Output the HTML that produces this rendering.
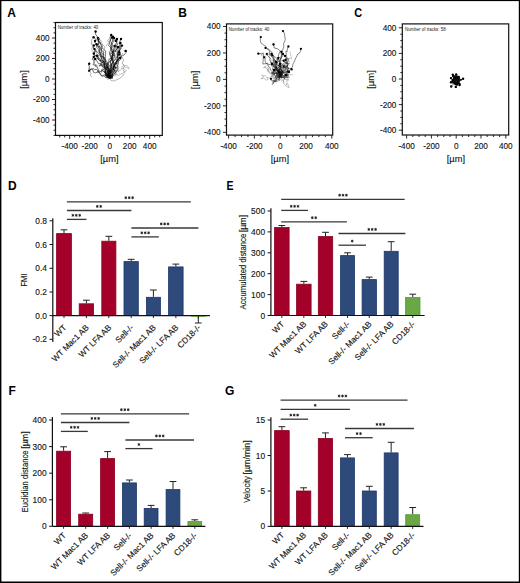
<!DOCTYPE html>
<html><head><meta charset="utf-8"><style>
html,body{margin:0;padding:0;background:#fff;}
#w{position:relative;width:520px;height:583px;overflow:hidden;background:#fff;}
#w svg{position:absolute;left:0;top:0;}
text{font-family:"Liberation Sans",sans-serif;stroke:#111;stroke-width:0.12px;}
</style></head><body><div id="w">
<svg width="520" height="583" viewBox="0 0 520 583" font-family="Liberation Sans, sans-serif">
<rect x="0" y="0" width="520" height="1.1" fill="#000"/><rect x="0" y="0" width="1.4" height="583" fill="#000"/><rect x="518.8" y="0" width="1.2" height="583" fill="#000"/><rect x="0" y="581.5" width="520" height="1.5" fill="#000"/>
<text x="7.30" y="16.80" font-size="12" text-anchor="start" font-weight="bold" fill="#000" style="stroke:none">A</text>
<text x="178.30" y="16.80" font-size="12" text-anchor="start" font-weight="bold" fill="#000" style="stroke:none">B</text>
<text x="354.30" y="16.80" font-size="12" text-anchor="start" font-weight="bold" fill="#000" style="stroke:none" textLength="7.9" lengthAdjust="spacingAndGlyphs">C</text>
<text x="8.00" y="189.50" font-size="12" text-anchor="start" font-weight="bold" fill="#000" style="stroke:none">D</text>
<text x="226.50" y="189.50" font-size="12" text-anchor="start" font-weight="bold" fill="#000" style="stroke:none" textLength="7.0" lengthAdjust="spacingAndGlyphs">E</text>
<text x="8.50" y="394.50" font-size="12" text-anchor="start" font-weight="bold" fill="#000" style="stroke:none">F</text>
<text x="225.00" y="395.00" font-size="12" text-anchor="start" font-weight="bold" fill="#000" style="stroke:none">G</text>
<rect x="55.50" y="22.50" width="106.80" height="112.90" fill="none" stroke="#111" stroke-width="1.2"/>
<line x1="53.50" y1="135.38" x2="55.50" y2="135.38" stroke="#111" stroke-width="0.9"/>
<line x1="53.50" y1="130.25" x2="55.50" y2="130.25" stroke="#111" stroke-width="0.9"/>
<line x1="53.50" y1="125.12" x2="55.50" y2="125.12" stroke="#111" stroke-width="0.9"/>
<line x1="52.00" y1="120.00" x2="55.50" y2="120.00" stroke="#111" stroke-width="0.9"/>
<text x="49.50" y="122.90" font-size="8.2" text-anchor="end" font-weight="normal" fill="#111" >-400</text>
<line x1="53.50" y1="114.88" x2="55.50" y2="114.88" stroke="#111" stroke-width="0.9"/>
<line x1="53.50" y1="109.75" x2="55.50" y2="109.75" stroke="#111" stroke-width="0.9"/>
<line x1="53.50" y1="104.62" x2="55.50" y2="104.62" stroke="#111" stroke-width="0.9"/>
<line x1="52.00" y1="99.50" x2="55.50" y2="99.50" stroke="#111" stroke-width="0.9"/>
<text x="49.50" y="102.40" font-size="8.2" text-anchor="end" font-weight="normal" fill="#111" >-200</text>
<line x1="53.50" y1="94.38" x2="55.50" y2="94.38" stroke="#111" stroke-width="0.9"/>
<line x1="53.50" y1="89.25" x2="55.50" y2="89.25" stroke="#111" stroke-width="0.9"/>
<line x1="53.50" y1="84.12" x2="55.50" y2="84.12" stroke="#111" stroke-width="0.9"/>
<line x1="52.00" y1="79.00" x2="55.50" y2="79.00" stroke="#111" stroke-width="0.9"/>
<text x="49.50" y="81.90" font-size="8.2" text-anchor="end" font-weight="normal" fill="#111" >0</text>
<line x1="53.50" y1="73.88" x2="55.50" y2="73.88" stroke="#111" stroke-width="0.9"/>
<line x1="53.50" y1="68.75" x2="55.50" y2="68.75" stroke="#111" stroke-width="0.9"/>
<line x1="53.50" y1="63.62" x2="55.50" y2="63.62" stroke="#111" stroke-width="0.9"/>
<line x1="52.00" y1="58.50" x2="55.50" y2="58.50" stroke="#111" stroke-width="0.9"/>
<text x="49.50" y="61.40" font-size="8.2" text-anchor="end" font-weight="normal" fill="#111" >200</text>
<line x1="53.50" y1="53.38" x2="55.50" y2="53.38" stroke="#111" stroke-width="0.9"/>
<line x1="53.50" y1="48.25" x2="55.50" y2="48.25" stroke="#111" stroke-width="0.9"/>
<line x1="53.50" y1="43.12" x2="55.50" y2="43.12" stroke="#111" stroke-width="0.9"/>
<line x1="52.00" y1="38.00" x2="55.50" y2="38.00" stroke="#111" stroke-width="0.9"/>
<text x="49.50" y="40.90" font-size="8.2" text-anchor="end" font-weight="normal" fill="#111" >400</text>
<line x1="53.50" y1="32.88" x2="55.50" y2="32.88" stroke="#111" stroke-width="0.9"/>
<line x1="53.50" y1="27.75" x2="55.50" y2="27.75" stroke="#111" stroke-width="0.9"/>
<line x1="53.50" y1="22.62" x2="55.50" y2="22.62" stroke="#111" stroke-width="0.9"/>
<line x1="59.70" y1="135.40" x2="59.70" y2="137.40" stroke="#111" stroke-width="0.9"/>
<line x1="64.70" y1="135.40" x2="64.70" y2="137.40" stroke="#111" stroke-width="0.9"/>
<line x1="69.70" y1="135.40" x2="69.70" y2="138.90" stroke="#111" stroke-width="0.9"/>
<text x="69.70" y="148.90" font-size="8.2" text-anchor="middle" font-weight="normal" fill="#111" >-400</text>
<line x1="74.70" y1="135.40" x2="74.70" y2="137.40" stroke="#111" stroke-width="0.9"/>
<line x1="79.70" y1="135.40" x2="79.70" y2="137.40" stroke="#111" stroke-width="0.9"/>
<line x1="84.70" y1="135.40" x2="84.70" y2="137.40" stroke="#111" stroke-width="0.9"/>
<line x1="89.70" y1="135.40" x2="89.70" y2="138.90" stroke="#111" stroke-width="0.9"/>
<text x="89.70" y="148.90" font-size="8.2" text-anchor="middle" font-weight="normal" fill="#111" >-200</text>
<line x1="94.70" y1="135.40" x2="94.70" y2="137.40" stroke="#111" stroke-width="0.9"/>
<line x1="99.70" y1="135.40" x2="99.70" y2="137.40" stroke="#111" stroke-width="0.9"/>
<line x1="104.70" y1="135.40" x2="104.70" y2="137.40" stroke="#111" stroke-width="0.9"/>
<line x1="109.70" y1="135.40" x2="109.70" y2="138.90" stroke="#111" stroke-width="0.9"/>
<text x="109.70" y="148.90" font-size="8.2" text-anchor="middle" font-weight="normal" fill="#111" >0</text>
<line x1="114.70" y1="135.40" x2="114.70" y2="137.40" stroke="#111" stroke-width="0.9"/>
<line x1="119.70" y1="135.40" x2="119.70" y2="137.40" stroke="#111" stroke-width="0.9"/>
<line x1="124.70" y1="135.40" x2="124.70" y2="137.40" stroke="#111" stroke-width="0.9"/>
<line x1="129.70" y1="135.40" x2="129.70" y2="138.90" stroke="#111" stroke-width="0.9"/>
<text x="129.70" y="148.90" font-size="8.2" text-anchor="middle" font-weight="normal" fill="#111" >200</text>
<line x1="134.70" y1="135.40" x2="134.70" y2="137.40" stroke="#111" stroke-width="0.9"/>
<line x1="139.70" y1="135.40" x2="139.70" y2="137.40" stroke="#111" stroke-width="0.9"/>
<line x1="144.70" y1="135.40" x2="144.70" y2="137.40" stroke="#111" stroke-width="0.9"/>
<line x1="149.70" y1="135.40" x2="149.70" y2="138.90" stroke="#111" stroke-width="0.9"/>
<text x="149.70" y="148.90" font-size="8.2" text-anchor="middle" font-weight="normal" fill="#111" >400</text>
<line x1="154.70" y1="135.40" x2="154.70" y2="137.40" stroke="#111" stroke-width="0.9"/>
<line x1="159.70" y1="135.40" x2="159.70" y2="137.40" stroke="#111" stroke-width="0.9"/>
<text x="109.40" y="161.60" font-size="9.3" text-anchor="middle" font-weight="normal" fill="#111" >[µm]</text>
<text x="0" y="0" font-size="9.5" text-anchor="middle" fill="#111" transform="translate(27.40,79.50) rotate(-90)">[µm]</text>
<text x="57.70" y="29.20" font-size="4.8" text-anchor="start" font-weight="normal" fill="#1a1a1a" style="stroke:none" textLength="40.6" lengthAdjust="spacingAndGlyphs">Number of tracks: 40</text>
<rect x="226.50" y="23.90" width="106.20" height="111.20" fill="none" stroke="#111" stroke-width="1.2"/>
<line x1="223.00" y1="132.32" x2="226.50" y2="132.32" stroke="#111" stroke-width="0.9"/>
<text x="220.50" y="135.22" font-size="8.2" text-anchor="end" font-weight="normal" fill="#111" >-400</text>
<line x1="224.50" y1="125.71" x2="226.50" y2="125.71" stroke="#111" stroke-width="0.9"/>
<line x1="224.50" y1="119.09" x2="226.50" y2="119.09" stroke="#111" stroke-width="0.9"/>
<line x1="224.50" y1="112.48" x2="226.50" y2="112.48" stroke="#111" stroke-width="0.9"/>
<line x1="223.00" y1="105.86" x2="226.50" y2="105.86" stroke="#111" stroke-width="0.9"/>
<text x="220.50" y="108.76" font-size="8.2" text-anchor="end" font-weight="normal" fill="#111" >-200</text>
<line x1="224.50" y1="99.25" x2="226.50" y2="99.25" stroke="#111" stroke-width="0.9"/>
<line x1="224.50" y1="92.63" x2="226.50" y2="92.63" stroke="#111" stroke-width="0.9"/>
<line x1="224.50" y1="86.02" x2="226.50" y2="86.02" stroke="#111" stroke-width="0.9"/>
<line x1="223.00" y1="79.40" x2="226.50" y2="79.40" stroke="#111" stroke-width="0.9"/>
<text x="220.50" y="82.30" font-size="8.2" text-anchor="end" font-weight="normal" fill="#111" >0</text>
<line x1="224.50" y1="72.79" x2="226.50" y2="72.79" stroke="#111" stroke-width="0.9"/>
<line x1="224.50" y1="66.17" x2="226.50" y2="66.17" stroke="#111" stroke-width="0.9"/>
<line x1="224.50" y1="59.56" x2="226.50" y2="59.56" stroke="#111" stroke-width="0.9"/>
<line x1="223.00" y1="52.94" x2="226.50" y2="52.94" stroke="#111" stroke-width="0.9"/>
<text x="220.50" y="55.84" font-size="8.2" text-anchor="end" font-weight="normal" fill="#111" >200</text>
<line x1="224.50" y1="46.33" x2="226.50" y2="46.33" stroke="#111" stroke-width="0.9"/>
<line x1="224.50" y1="39.71" x2="226.50" y2="39.71" stroke="#111" stroke-width="0.9"/>
<line x1="224.50" y1="33.10" x2="226.50" y2="33.10" stroke="#111" stroke-width="0.9"/>
<line x1="223.00" y1="26.48" x2="226.50" y2="26.48" stroke="#111" stroke-width="0.9"/>
<text x="220.50" y="29.38" font-size="8.2" text-anchor="end" font-weight="normal" fill="#111" >400</text>
<line x1="228.60" y1="135.10" x2="228.60" y2="138.60" stroke="#111" stroke-width="0.9"/>
<text x="228.60" y="148.60" font-size="8.2" text-anchor="middle" font-weight="normal" fill="#111" >-400</text>
<line x1="235.05" y1="135.10" x2="235.05" y2="137.10" stroke="#111" stroke-width="0.9"/>
<line x1="241.50" y1="135.10" x2="241.50" y2="137.10" stroke="#111" stroke-width="0.9"/>
<line x1="247.95" y1="135.10" x2="247.95" y2="137.10" stroke="#111" stroke-width="0.9"/>
<line x1="254.40" y1="135.10" x2="254.40" y2="138.60" stroke="#111" stroke-width="0.9"/>
<text x="254.40" y="148.60" font-size="8.2" text-anchor="middle" font-weight="normal" fill="#111" >-200</text>
<line x1="260.85" y1="135.10" x2="260.85" y2="137.10" stroke="#111" stroke-width="0.9"/>
<line x1="267.30" y1="135.10" x2="267.30" y2="137.10" stroke="#111" stroke-width="0.9"/>
<line x1="273.75" y1="135.10" x2="273.75" y2="137.10" stroke="#111" stroke-width="0.9"/>
<line x1="280.20" y1="135.10" x2="280.20" y2="138.60" stroke="#111" stroke-width="0.9"/>
<text x="280.20" y="148.60" font-size="8.2" text-anchor="middle" font-weight="normal" fill="#111" >0</text>
<line x1="286.65" y1="135.10" x2="286.65" y2="137.10" stroke="#111" stroke-width="0.9"/>
<line x1="293.10" y1="135.10" x2="293.10" y2="137.10" stroke="#111" stroke-width="0.9"/>
<line x1="299.55" y1="135.10" x2="299.55" y2="137.10" stroke="#111" stroke-width="0.9"/>
<line x1="306.00" y1="135.10" x2="306.00" y2="138.60" stroke="#111" stroke-width="0.9"/>
<text x="306.00" y="148.60" font-size="8.2" text-anchor="middle" font-weight="normal" fill="#111" >200</text>
<line x1="312.45" y1="135.10" x2="312.45" y2="137.10" stroke="#111" stroke-width="0.9"/>
<line x1="318.90" y1="135.10" x2="318.90" y2="137.10" stroke="#111" stroke-width="0.9"/>
<line x1="325.35" y1="135.10" x2="325.35" y2="137.10" stroke="#111" stroke-width="0.9"/>
<line x1="331.80" y1="135.10" x2="331.80" y2="138.60" stroke="#111" stroke-width="0.9"/>
<text x="331.80" y="148.60" font-size="8.2" text-anchor="middle" font-weight="normal" fill="#111" >400</text>
<text x="279.90" y="161.60" font-size="9.3" text-anchor="middle" font-weight="normal" fill="#111" >[µm]</text>
<text x="0" y="0" font-size="9.5" text-anchor="middle" fill="#111" transform="translate(198.40,79.90) rotate(-90)">[µm]</text>
<text x="228.70" y="30.60" font-size="4.8" text-anchor="start" font-weight="normal" fill="#1a1a1a" style="stroke:none" textLength="40.6" lengthAdjust="spacingAndGlyphs">Number of tracks: 40</text>
<rect x="402.30" y="23.90" width="106.40" height="111.10" fill="none" stroke="#111" stroke-width="1.2"/>
<line x1="398.80" y1="130.20" x2="402.30" y2="130.20" stroke="#111" stroke-width="0.9"/>
<text x="396.30" y="133.10" font-size="8.2" text-anchor="end" font-weight="normal" fill="#111" >-400</text>
<line x1="400.30" y1="123.80" x2="402.30" y2="123.80" stroke="#111" stroke-width="0.9"/>
<line x1="400.30" y1="117.40" x2="402.30" y2="117.40" stroke="#111" stroke-width="0.9"/>
<line x1="400.30" y1="111.00" x2="402.30" y2="111.00" stroke="#111" stroke-width="0.9"/>
<line x1="398.80" y1="104.60" x2="402.30" y2="104.60" stroke="#111" stroke-width="0.9"/>
<text x="396.30" y="107.50" font-size="8.2" text-anchor="end" font-weight="normal" fill="#111" >-200</text>
<line x1="400.30" y1="98.20" x2="402.30" y2="98.20" stroke="#111" stroke-width="0.9"/>
<line x1="400.30" y1="91.80" x2="402.30" y2="91.80" stroke="#111" stroke-width="0.9"/>
<line x1="400.30" y1="85.40" x2="402.30" y2="85.40" stroke="#111" stroke-width="0.9"/>
<line x1="398.80" y1="79.00" x2="402.30" y2="79.00" stroke="#111" stroke-width="0.9"/>
<text x="396.30" y="81.90" font-size="8.2" text-anchor="end" font-weight="normal" fill="#111" >0</text>
<line x1="400.30" y1="72.60" x2="402.30" y2="72.60" stroke="#111" stroke-width="0.9"/>
<line x1="400.30" y1="66.20" x2="402.30" y2="66.20" stroke="#111" stroke-width="0.9"/>
<line x1="400.30" y1="59.80" x2="402.30" y2="59.80" stroke="#111" stroke-width="0.9"/>
<line x1="398.80" y1="53.40" x2="402.30" y2="53.40" stroke="#111" stroke-width="0.9"/>
<text x="396.30" y="56.30" font-size="8.2" text-anchor="end" font-weight="normal" fill="#111" >200</text>
<line x1="400.30" y1="47.00" x2="402.30" y2="47.00" stroke="#111" stroke-width="0.9"/>
<line x1="400.30" y1="40.60" x2="402.30" y2="40.60" stroke="#111" stroke-width="0.9"/>
<line x1="400.30" y1="34.20" x2="402.30" y2="34.20" stroke="#111" stroke-width="0.9"/>
<line x1="398.80" y1="27.80" x2="402.30" y2="27.80" stroke="#111" stroke-width="0.9"/>
<text x="396.30" y="30.70" font-size="8.2" text-anchor="end" font-weight="normal" fill="#111" >400</text>
<line x1="406.60" y1="135.00" x2="406.60" y2="138.50" stroke="#111" stroke-width="0.9"/>
<text x="406.60" y="148.50" font-size="8.2" text-anchor="middle" font-weight="normal" fill="#111" >-400</text>
<line x1="412.80" y1="135.00" x2="412.80" y2="137.00" stroke="#111" stroke-width="0.9"/>
<line x1="419.00" y1="135.00" x2="419.00" y2="137.00" stroke="#111" stroke-width="0.9"/>
<line x1="425.20" y1="135.00" x2="425.20" y2="137.00" stroke="#111" stroke-width="0.9"/>
<line x1="431.40" y1="135.00" x2="431.40" y2="138.50" stroke="#111" stroke-width="0.9"/>
<text x="431.40" y="148.50" font-size="8.2" text-anchor="middle" font-weight="normal" fill="#111" >-200</text>
<line x1="437.60" y1="135.00" x2="437.60" y2="137.00" stroke="#111" stroke-width="0.9"/>
<line x1="443.80" y1="135.00" x2="443.80" y2="137.00" stroke="#111" stroke-width="0.9"/>
<line x1="450.00" y1="135.00" x2="450.00" y2="137.00" stroke="#111" stroke-width="0.9"/>
<line x1="456.20" y1="135.00" x2="456.20" y2="138.50" stroke="#111" stroke-width="0.9"/>
<text x="456.20" y="148.50" font-size="8.2" text-anchor="middle" font-weight="normal" fill="#111" >0</text>
<line x1="462.40" y1="135.00" x2="462.40" y2="137.00" stroke="#111" stroke-width="0.9"/>
<line x1="468.60" y1="135.00" x2="468.60" y2="137.00" stroke="#111" stroke-width="0.9"/>
<line x1="474.80" y1="135.00" x2="474.80" y2="137.00" stroke="#111" stroke-width="0.9"/>
<line x1="481.00" y1="135.00" x2="481.00" y2="138.50" stroke="#111" stroke-width="0.9"/>
<text x="481.00" y="148.50" font-size="8.2" text-anchor="middle" font-weight="normal" fill="#111" >200</text>
<line x1="487.20" y1="135.00" x2="487.20" y2="137.00" stroke="#111" stroke-width="0.9"/>
<line x1="493.40" y1="135.00" x2="493.40" y2="137.00" stroke="#111" stroke-width="0.9"/>
<line x1="499.60" y1="135.00" x2="499.60" y2="137.00" stroke="#111" stroke-width="0.9"/>
<line x1="505.80" y1="135.00" x2="505.80" y2="138.50" stroke="#111" stroke-width="0.9"/>
<text x="505.80" y="148.50" font-size="8.2" text-anchor="middle" font-weight="normal" fill="#111" >400</text>
<text x="455.90" y="161.60" font-size="9.3" text-anchor="middle" font-weight="normal" fill="#111" >[µm]</text>
<text x="0" y="0" font-size="9.5" text-anchor="middle" fill="#111" transform="translate(374.30,79.50) rotate(-90)">[µm]</text>
<text x="405.00" y="31.10" font-size="4.8" text-anchor="start" font-weight="normal" fill="#1a1a1a" style="stroke:none" textLength="40.6" lengthAdjust="spacingAndGlyphs">Number of tracks: 58</text>
<g fill="none" stroke-linejoin="round" stroke-linecap="round">
<path d="M109.6,78.0 L108.3,76.9 L107.0,74.2 L104.5,71.8 L105.7,70.4 L106.7,68.8 L106.6,67.0 L102.8,66.3 L102.9,65.1 L99.1,59.7 L96.7,56.7 L96.5,54.4 L96.6,51.0 L96.4,49.4 L94.5,50.2 L94.8,50.1 L92.9,46.4 L91.6,43.9 L92.0,42.0" stroke="#8a8a8a" stroke-width="0.5"/>
<path d="M109.6,78.0 L109.5,75.7 L109.2,77.3 L108.4,77.2 L109.8,73.9 L110.6,75.7 L107.6,74.5 L108.1,72.4 L109.6,71.7 L107.6,72.6 L109.4,73.6 L112.7,73.6 L113.5,70.6 L115.2,68.9 L115.0,65.9 L113.9,64.3 L116.8,59.9 L114.8,59.7 L118.0,60.0" stroke="#8a8a8a" stroke-width="0.5"/>
<path d="M109.6,78.0 L107.0,72.8 L108.4,70.8 L107.2,71.8 L109.9,71.4 L111.1,71.5 L114.7,71.9 L116.4,72.2 L114.4,73.8 L116.8,74.0 L114.0,72.2 L116.3,68.2 L116.6,69.3 L115.0,71.5 L116.7,70.4 L118.0,70.9 L118.9,72.2 L118.4,70.7 L121.0,70.0" stroke="#8a8a8a" stroke-width="0.5"/>
<path d="M109.6,78.0 L107.5,79.4 L109.7,78.4 L106.7,77.9 L106.0,77.1 L108.0,74.9 L109.8,72.4 L107.9,73.2 L109.5,74.5 L109.6,74.5 L109.4,75.2 L108.6,75.4 L109.1,75.1 L110.0,75.9 L113.1,76.2 L111.8,75.2 L111.3,76.5 L110.2,76.9 L113.0,72.0" stroke="#8a8a8a" stroke-width="0.5"/>
<path d="M109.6,78.0 L108.2,77.6 L109.6,77.3 L109.5,77.6 L110.7,75.9 L115.7,75.7 L115.3,74.7 L115.6,73.7 L111.3,72.0 L113.7,69.0 L114.2,69.8 L116.4,71.6 L113.9,70.1 L113.9,70.3 L116.5,64.6 L119.0,61.0 L120.8,57.4 L121.7,58.6 L122.0,58.0" stroke="#8a8a8a" stroke-width="0.5"/>
<path d="M109.6,78.0 L110.9,76.5 L110.6,77.5 L112.3,75.3 L117.1,71.4 L118.5,69.1 L118.6,68.6 L118.8,67.9 L115.9,63.4 L116.8,59.8 L114.8,55.2 L116.9,54.7 L119.4,51.1 L119.2,47.1 L120.4,48.0 L118.6,48.9 L120.1,46.6 L116.4,47.1 L116.0,44.0" stroke="#8a8a8a" stroke-width="0.5"/>
<path d="M109.6,78.0 L111.4,77.3 L115.2,74.0 L118.3,75.3 L122.0,73.5 L121.7,73.9 L122.9,72.7 L126.5,70.7 L123.4,68.5 L121.1,68.5 L122.7,66.0 L123.7,66.0 L124.9,66.8 L125.7,67.2 L129.4,68.6 L129.2,68.7 L126.8,65.2 L124.2,65.6 L123.0,64.0" stroke="#8a8a8a" stroke-width="0.5"/>
<path d="M109.6,78.0 L109.0,77.3 L107.7,77.1 L110.7,76.5 L111.4,77.6 L110.8,74.6 L109.6,75.9 L106.4,74.1 L108.1,74.8 L107.9,75.5 L108.0,72.7 L105.0,70.8 L106.5,69.0 L104.7,66.9 L101.8,65.9 L99.5,65.8 L95.1,65.6 L93.8,61.3 L95.0,60.0" stroke="#8a8a8a" stroke-width="0.5"/>
<path d="M109.6,78.0 L105.8,74.5 L104.9,71.4 L104.7,69.7 L104.4,67.6 L104.8,65.8 L104.2,60.7 L104.2,59.6 L102.7,56.4 L103.9,51.6 L103.3,51.8 L101.1,49.9 L102.3,47.0 L101.9,45.3 L99.7,42.4 L99.0,40.6 L97.9,37.6 L95.6,34.3 L95.6,31.5" stroke="#000" stroke-width="0.55"/>
<path d="M109.6,78.0 L107.3,74.8 L109.3,74.0 L108.8,68.8 L108.4,67.1 L109.2,65.4 L107.9,63.8 L104.4,62.8 L103.6,59.6 L104.0,59.5 L101.1,56.4 L100.3,54.3 L98.7,50.7 L100.1,49.6 L97.5,45.6 L98.4,44.3 L99.5,42.8 L97.3,40.7 L93.6,37.3" stroke="#000" stroke-width="0.55"/>
<path d="M109.6,78.0 L109.2,76.7 L107.9,74.6 L108.1,73.0 L108.5,71.3 L107.8,70.2 L107.5,67.2 L106.4,65.1 L105.9,63.2 L105.6,61.3 L105.1,57.7 L105.3,56.8 L105.5,54.4 L105.7,51.1 L103.2,48.9 L101.8,47.6 L100.2,42.2 L98.6,41.8 L97.9,37.9" stroke="#000" stroke-width="0.55"/>
<path d="M109.6,78.0 L107.6,75.8 L107.1,73.2 L107.8,71.2 L106.7,69.0 L107.6,67.3 L107.7,63.0 L106.5,61.0 L105.0,59.3 L104.7,57.4 L103.4,57.5 L103.8,54.2 L102.9,54.3 L101.4,52.3 L101.6,49.2 L99.2,46.4 L98.6,44.6 L98.5,41.5 L98.5,39.0" stroke="#000" stroke-width="0.55"/>
<path d="M109.6,78.0 L110.0,76.4 L109.9,75.6 L108.9,73.2 L109.0,69.8 L108.7,65.7 L108.1,64.6 L108.9,62.8 L108.8,59.3 L111.2,58.2 L112.7,55.3 L112.7,51.3 L113.8,50.6 L111.7,48.6 L112.6,44.6 L110.6,41.4 L110.0,37.8 L110.3,36.1 L111.2,35.0" stroke="#000" stroke-width="0.55"/>
<path d="M109.6,78.0 L111.9,77.8 L110.7,75.6 L109.9,72.7 L110.3,71.0 L111.3,67.4 L110.3,65.7 L110.5,63.6 L110.8,61.0 L112.1,59.6 L112.4,57.0 L112.7,52.0 L111.9,50.2 L110.5,48.6 L111.2,45.1 L111.3,42.8 L112.3,41.7 L112.6,38.7 L112.9,36.7" stroke="#000" stroke-width="0.55"/>
<path d="M109.6,78.0 L110.5,76.4 L109.6,72.7 L109.2,69.8 L107.9,67.6 L107.3,65.7 L107.9,63.1 L110.7,60.6 L112.0,58.6 L113.4,53.6 L112.4,51.7 L113.1,52.3 L113.5,51.6 L114.4,50.6 L115.0,48.1 L115.6,44.6 L117.0,41.1 L117.2,41.3 L116.9,39.0" stroke="#000" stroke-width="0.55"/>
<path d="M109.6,78.0 L111.4,75.5 L110.8,73.3 L111.9,71.6 L111.4,71.1 L113.8,68.5 L114.5,65.4 L116.6,61.9 L117.7,58.7 L117.3,56.9 L119.2,54.2 L118.8,52.5 L119.1,50.1 L121.2,48.7 L120.9,48.7 L121.3,46.8 L120.8,44.0 L119.0,43.3 L121.0,39.0" stroke="#000" stroke-width="0.55"/>
<path d="M109.6,78.0 L108.4,74.5 L110.4,72.3 L111.0,70.3 L111.4,67.3 L112.0,63.9 L112.5,62.6 L113.7,60.6 L113.2,59.1 L113.2,59.2 L114.6,57.3 L114.6,54.7 L114.1,52.5 L115.0,51.3 L116.2,52.0 L115.9,50.2 L119.8,46.1 L119.7,44.4 L120.4,43.0" stroke="#000" stroke-width="0.55"/>
<path d="M109.6,78.0 L110.4,76.9 L111.5,76.3 L110.3,73.7 L111.4,70.9 L111.2,70.1 L111.4,69.3 L113.3,68.1 L115.0,66.3 L114.3,64.7 L115.8,62.4 L116.7,61.6 L116.6,60.7 L119.9,58.4 L121.0,56.5 L123.8,55.2 L125.9,52.7 L126.8,50.9 L125.6,50.9" stroke="#000" stroke-width="0.55"/>
<path d="M109.6,78.0 L109.7,74.3 L109.7,72.5 L109.3,71.3 L106.5,69.4 L107.4,67.0 L105.3,63.7 L102.9,62.3 L104.0,61.1 L103.4,62.1 L101.9,59.5 L101.7,58.4 L99.6,55.2 L99.1,53.7 L96.7,51.6 L95.2,50.3 L94.2,48.3 L93.0,47.7 L93.8,45.4" stroke="#000" stroke-width="0.55"/>
<path d="M109.6,78.0 L110.0,75.3 L109.4,74.3 L110.6,72.0 L109.8,70.3 L107.4,68.5 L105.9,67.0 L104.0,62.7 L103.4,61.1 L102.1,60.2 L101.2,57.5 L101.2,53.6 L99.8,51.5 L100.2,49.3 L100.0,46.5 L99.8,46.4 L98.4,47.2 L97.0,45.1 L96.7,44.2" stroke="#000" stroke-width="0.55"/>
<path d="M109.6,78.0 L106.9,74.2 L106.5,73.9 L106.1,75.8 L105.2,74.8 L105.2,74.0 L106.1,71.2 L104.5,65.8 L104.4,64.0 L104.4,65.2 L103.3,63.6 L101.6,61.2 L99.7,60.6 L98.7,59.3 L97.4,59.0 L97.0,57.4 L96.7,55.8 L94.3,56.1 L93.8,53.5" stroke="#000" stroke-width="0.55"/>
<path d="M109.6,78.0 L109.6,77.1 L106.4,77.7 L105.5,77.5 L104.4,76.0 L101.3,75.8 L100.0,74.1 L99.2,72.8 L98.7,71.0 L97.4,67.1 L95.7,66.5 L96.1,64.7 L94.7,65.2 L93.1,64.6 L93.9,63.2 L94.1,60.9 L93.2,59.4 L92.1,59.3 L93.8,57.0" stroke="#000" stroke-width="0.55"/>
<path d="M109.6,78.0 L108.1,77.4 L106.0,76.9 L105.8,75.3 L105.6,72.3 L105.7,69.2 L104.1,67.4 L102.8,67.2 L102.1,65.5 L102.0,66.1 L101.2,65.3 L101.9,64.3 L99.6,66.0 L101.5,62.4 L100.6,61.6 L101.0,61.1 L100.0,58.5 L99.3,58.4 L97.3,55.8" stroke="#000" stroke-width="0.55"/>
<path d="M109.6,78.0 L108.3,75.2 L106.8,74.1 L106.1,72.7 L103.9,71.7 L102.6,70.4 L101.4,70.7 L101.7,72.2 L99.6,71.1 L95.4,72.9 L93.4,72.2 L92.9,70.0 L92.3,69.4 L89.0,69.1 L89.4,66.3 L89.2,65.9 L88.7,65.8 L89.2,64.9 L89.2,63.8" stroke="#000" stroke-width="0.55"/>
<path d="M109.6,78.0 L109.3,76.3 L108.0,77.6 L107.4,76.6 L104.9,74.9 L104.0,75.3 L103.4,75.1 L102.3,76.0 L100.7,74.5 L100.7,73.8 L99.3,72.3 L97.9,72.3 L97.3,70.0 L96.7,69.4 L94.5,69.6 L93.1,68.4 L93.1,69.1 L91.2,68.8 L89.2,70.8" stroke="#000" stroke-width="0.55"/>
<path d="M109.6,78.0 L109.4,77.7 L108.9,77.0 L111.9,72.2 L111.8,71.1 L112.0,68.6 L114.9,66.9 L113.3,66.1 L111.6,65.7 L111.2,64.1 L113.0,62.4 L111.7,58.5 L113.4,57.5 L112.8,56.7 L113.7,55.6 L111.3,53.3 L112.7,52.3 L114.1,47.4 L114.6,46.0" stroke="#000" stroke-width="0.55"/>
<path d="M109.6,78.0 L113.1,75.8 L113.2,74.9 L114.7,73.3 L116.6,71.3 L117.3,69.6 L118.0,67.7 L116.5,67.9 L117.3,66.2 L118.0,66.2 L117.2,65.0 L118.3,64.5 L118.3,60.8 L120.2,60.0 L120.6,58.5 L121.4,56.8 L120.5,54.7 L120.2,52.8 L119.2,52.3" stroke="#000" stroke-width="0.55"/>
<path d="M109.6,78.0 L108.6,77.8 L107.9,77.2 L110.1,76.4 L109.8,75.4 L110.5,72.3 L110.3,71.4 L110.2,70.4 L111.6,70.3 L113.2,69.9 L113.4,68.7 L113.6,67.2 L113.8,64.0 L113.9,62.9 L113.3,61.7 L114.4,60.3 L117.3,56.0 L117.6,52.6 L119.2,54.6" stroke="#000" stroke-width="0.55"/>
<path d="M109.6,78.0 L107.1,76.4 L108.1,74.4 L109.3,69.9 L110.7,68.6 L111.2,66.1 L112.4,63.7 L113.2,61.3 L110.9,59.4 L111.6,58.5 L111.0,56.5 L112.2,54.8 L114.1,55.3 L113.4,51.1 L114.9,51.0 L116.4,50.0 L116.1,47.1 L117.6,44.0 L115.8,40.8" stroke="#000" stroke-width="0.55"/>
<path d="M109.6,78.0 L112.8,78.3 L112.2,75.5 L112.8,72.6 L114.6,70.5 L113.5,70.0 L113.0,68.2 L113.3,65.8 L113.9,62.8 L111.9,58.1 L110.6,55.0 L110.8,52.9 L111.7,50.9 L111.0,47.9 L108.7,45.4 L109.5,43.8 L109.5,41.4 L110.9,39.1 L112.0,37.5" stroke="#000" stroke-width="0.55"/>
<path d="M109.6,78.0 L109.6,77.2 L108.7,74.5 L107.5,71.1 L109.1,70.8 L108.9,69.1 L110.0,67.7 L111.2,63.7 L110.2,61.8 L111.7,59.4 L110.4,56.5 L109.3,52.9 L110.8,49.6 L110.6,49.6 L111.8,47.4 L110.7,45.3 L112.4,43.4 L113.7,40.9 L114.0,38.0" stroke="#000" stroke-width="0.55"/>
<path d="M109.6,78.0 L109.2,77.8 L106.5,76.0 L105.8,73.5 L104.5,72.6 L106.0,71.6 L105.4,67.9 L106.8,66.1 L105.9,62.9 L104.9,59.7 L104.1,58.3 L103.3,56.7 L101.4,56.5 L99.7,52.3 L98.6,49.4 L96.5,47.0 L96.0,43.6 L95.0,43.2 L95.0,41.0" stroke="#000" stroke-width="0.55"/>
<path d="M109.6,78.0 L109.0,76.5 L108.2,75.9 L107.4,71.6 L106.6,69.1 L106.7,66.9 L106.1,68.1 L104.2,65.2 L101.8,60.9 L98.8,59.8 L97.4,56.0 L94.9,55.2 L93.3,53.2 L93.1,53.3 L94.7,52.9 L94.3,51.6 L95.8,51.7 L94.8,50.6 L94.5,49.0" stroke="#000" stroke-width="0.55"/>
<path d="M109.6,78.0 L109.3,75.0 L108.9,71.8 L110.6,71.0 L109.4,71.3 L110.7,67.6 L113.2,67.1 L115.9,64.2 L116.8,63.2 L117.2,61.9 L118.7,58.6 L117.5,55.4 L117.0,53.1 L117.7,51.9 L117.9,49.5 L117.6,49.1 L118.7,47.6 L118.5,47.9 L118.0,47.0" stroke="#000" stroke-width="0.55"/>
<path d="M109.6,78.0 L111.7,75.8 L113.4,72.7 L115.3,71.0 L114.1,69.9 L113.7,69.6 L113.6,67.5 L114.6,65.1 L115.6,62.5 L117.0,60.6 L117.9,55.3 L120.0,53.3 L118.5,51.4 L119.7,50.7 L119.0,50.5 L119.5,51.3 L119.9,50.1 L120.1,46.6 L122.0,45.6" stroke="#000" stroke-width="0.55"/>
<path d="M109.6,78.0 L112.1,77.9 L112.1,74.8 L112.0,72.9 L111.6,72.5 L112.7,71.0 L113.5,69.7 L114.4,69.4 L116.2,67.4 L115.0,68.0 L115.8,68.1 L114.5,66.5 L115.1,63.6 L115.1,63.2 L117.0,63.9 L116.5,61.0 L117.8,60.8 L118.6,58.0 L120.1,57.7" stroke="#000" stroke-width="0.55"/>
<path d="M109.6,78.0 L109.1,76.3 L108.4,76.1 L106.6,72.8 L105.9,72.2 L104.8,72.2 L103.0,70.9 L101.5,70.4 L102.4,68.9 L103.8,69.6 L103.6,69.1 L104.7,67.7 L103.5,65.2 L103.0,65.6 L102.6,64.9 L101.4,63.8 L98.6,63.8 L97.1,61.3 L95.2,59.0" stroke="#000" stroke-width="0.55"/>
</g>
<circle cx="95.6" cy="31.5" r="1.2" fill="#000"/>
<circle cx="93.6" cy="37.3" r="1.2" fill="#000"/>
<circle cx="97.9" cy="37.9" r="1.2" fill="#000"/>
<circle cx="98.5" cy="39.0" r="1.2" fill="#000"/>
<circle cx="111.2" cy="35.0" r="1.2" fill="#000"/>
<circle cx="112.9" cy="36.7" r="1.2" fill="#000"/>
<circle cx="116.9" cy="39.0" r="1.2" fill="#000"/>
<circle cx="121.0" cy="39.0" r="1.2" fill="#000"/>
<circle cx="120.4" cy="43.0" r="1.2" fill="#000"/>
<circle cx="125.6" cy="50.9" r="1.2" fill="#000"/>
<circle cx="93.8" cy="45.4" r="1.2" fill="#000"/>
<circle cx="96.7" cy="44.2" r="1.2" fill="#000"/>
<circle cx="93.8" cy="53.5" r="1.2" fill="#000"/>
<circle cx="93.8" cy="57.0" r="1.2" fill="#000"/>
<circle cx="97.3" cy="55.8" r="1.2" fill="#000"/>
<circle cx="89.2" cy="63.8" r="1.2" fill="#000"/>
<circle cx="89.2" cy="70.8" r="1.2" fill="#000"/>
<circle cx="114.6" cy="46.0" r="1.2" fill="#000"/>
<circle cx="119.2" cy="52.3" r="1.2" fill="#000"/>
<circle cx="119.2" cy="54.6" r="1.2" fill="#000"/>
<circle cx="115.8" cy="40.8" r="1.2" fill="#000"/>
<circle cx="112.0" cy="37.5" r="1.2" fill="#000"/>
<circle cx="114.0" cy="38.0" r="1.2" fill="#000"/>
<circle cx="95.0" cy="41.0" r="1.2" fill="#000"/>
<circle cx="94.5" cy="49.0" r="1.2" fill="#000"/>
<circle cx="118.0" cy="47.0" r="1.2" fill="#000"/>
<circle cx="122.0" cy="45.6" r="1.2" fill="#000"/>
<circle cx="120.1" cy="57.7" r="1.2" fill="#000"/>
<circle cx="95.2" cy="59.0" r="1.2" fill="#000"/>
<g fill="none" stroke="#777" stroke-width="0.55" stroke-linejoin="round">
<path d="M109.6,78 L111,80.5 L114,81 L116.5,79.8 L119.5,78.6 L122.5,76 L124.6,72.5 L123.2,69.5 L124.4,66 L122.2,63.2 L123.6,60 L121.4,56.5 L122.6,53"/>
<path d="M93.6,37.3 L91.8,39.5 L91.2,43 L92.6,46 L91.6,49.5 L93.2,52"/>
<path d="M97.9,37.9 L100.5,40 L102.5,44.5 L104.8,47 L104,50.5 L101.5,53"/>
<path d="M106,46 L108.5,43 L107.8,40.2 L109.6,38.5"/>
<path d="M89.2,70.8 L91,73.5 L90.2,75.5 L92,76.8"/>
</g>
<g fill="none" stroke-linejoin="round" stroke-linecap="round">
<path d="M280.0,76.5 L281.4,78.9 L278.5,81.1 L279.9,80.3 L276.7,79.3 L275.2,80.3 L274.2,76.7 L274.4,74.1 L275.9,72.1 L274.2,70.8 L272.9,73.7 L274.3,75.2 L274.6,72.6 L273.3,71.9 L271.1,73.2 L269.4,72.2 L267.1,68.6 L267.9,71.5 L268.0,70.0" stroke="#8a8a8a" stroke-width="0.5"/>
<path d="M280.0,76.5 L275.5,75.9 L278.7,75.4 L281.2,77.3 L284.2,75.5 L287.1,76.0 L284.8,74.3 L282.8,73.1 L284.7,70.0 L281.5,71.5 L283.0,73.4 L281.2,74.5 L286.1,77.4 L286.4,77.0 L286.9,77.9 L289.7,77.1 L287.8,77.6 L287.7,77.8 L289.0,80.0" stroke="#8a8a8a" stroke-width="0.5"/>
<path d="M280.0,76.5 L281.1,74.6 L280.7,77.0 L278.6,76.8 L279.8,78.2 L279.8,74.6 L276.2,74.1 L275.9,78.0 L273.1,79.2 L273.5,74.9 L270.9,74.2 L268.8,72.8 L268.7,70.2 L268.5,68.0 L266.3,68.0 L264.1,67.5 L266.2,66.5 L264.8,66.9 L263.0,68.0" stroke="#8a8a8a" stroke-width="0.5"/>
<path d="M280.0,76.5 L276.9,78.1 L275.3,77.0 L278.1,75.7 L280.9,77.4 L283.2,75.9 L284.9,79.2 L284.1,79.3 L288.3,80.1 L286.8,79.3 L287.1,80.3 L286.8,84.1 L285.6,85.4 L287.8,83.9 L289.2,87.9 L286.0,86.2 L283.4,83.0 L283.6,79.8 L284.0,83.0" stroke="#8a8a8a" stroke-width="0.5"/>
<path d="M280.0,76.5 L277.9,76.3 L275.3,78.2 L274.9,78.1 L276.1,79.5 L276.5,79.9 L276.5,80.5 L275.2,81.1 L272.5,80.5 L277.4,81.0 L276.0,81.9 L275.1,79.1 L274.8,80.9 L276.6,81.1 L275.9,79.4 L279.6,80.3 L278.8,76.5 L277.2,81.8 L276.0,82.0" stroke="#8a8a8a" stroke-width="0.5"/>
<path d="M280.0,76.5 L281.9,76.1 L282.8,73.4 L282.2,76.7 L282.2,78.3 L280.3,77.7 L282.3,79.6 L281.5,80.8 L283.8,79.3 L286.1,77.5 L286.0,77.4 L282.2,77.1 L281.7,74.2 L282.3,75.7 L283.0,78.1 L282.2,75.5 L286.7,76.2 L290.0,74.5 L293.0,75.0" stroke="#8a8a8a" stroke-width="0.5"/>
<path d="M280.0,76.5 L280.4,76.6 L281.9,75.3 L279.2,72.4 L280.6,71.0 L277.7,69.2 L275.9,66.7 L274.5,65.5 L272.6,63.6 L271.8,62.8 L271.1,63.3 L271.0,59.0 L269.0,57.5 L269.7,54.4 L267.4,53.8 L265.9,55.8 L264.2,57.7 L260.5,54.1 L262.0,55.0" stroke="#8a8a8a" stroke-width="0.5"/>
<path d="M280.0,76.5 L280.7,75.7 L281.4,72.3 L283.0,70.3 L284.6,69.5 L280.5,65.9 L282.5,64.7 L281.4,64.1 L280.3,62.1 L280.3,61.3 L283.0,60.4 L286.4,62.9 L289.5,64.0 L289.5,63.2 L288.9,60.8 L288.6,58.5 L291.5,58.6 L290.4,53.8 L290.0,52.0" stroke="#8a8a8a" stroke-width="0.5"/>
<path d="M280.0,76.5 L277.4,73.2 L272.5,73.3 L271.9,77.3 L271.3,76.0 L273.6,75.2 L273.4,73.4 L271.7,75.3 L273.2,77.6 L272.0,76.6 L269.8,77.5 L266.6,77.5 L268.2,79.2 L265.9,80.3 L264.0,77.8 L260.9,79.0 L263.6,76.8 L261.6,75.1 L266.0,76.0" stroke="#8a8a8a" stroke-width="0.5"/>
<path d="M280.0,76.5 L279.7,72.2 L279.3,71.8 L282.2,69.6 L281.7,67.0 L279.7,66.2 L278.8,65.7 L277.0,62.1 L277.8,59.2 L279.3,57.2 L278.2,56.1 L279.7,51.7 L282.5,50.4 L284.0,46.1 L283.5,43.7 L285.3,39.9 L284.6,35.3 L284.7,33.8 L283.0,31.1" stroke="#111" stroke-width="0.5"/>
<path d="M280.0,76.5 L279.6,76.0 L279.4,73.1 L276.7,69.4 L274.8,67.1 L273.6,66.7 L272.9,62.8 L273.8,61.6 L272.9,58.1 L269.4,54.3 L269.5,50.7 L266.7,48.5 L265.9,46.7 L265.7,46.1 L263.5,44.8 L261.1,43.2 L260.3,41.0 L260.4,38.5 L260.8,37.1" stroke="#111" stroke-width="0.5"/>
<path d="M280.0,76.5 L279.6,74.2 L278.1,71.9 L277.3,70.2 L280.6,69.5 L281.1,66.7 L279.6,64.7 L279.3,61.8 L280.9,59.4 L281.7,54.8 L281.2,53.5 L280.9,52.7 L280.7,51.3 L277.7,48.8 L274.1,48.0 L274.0,46.1 L272.4,43.8 L274.2,44.4 L273.6,44.5" stroke="#111" stroke-width="0.5"/>
<path d="M280.0,76.5 L277.1,73.1 L275.7,71.1 L274.2,70.4 L277.3,68.6 L276.6,68.1 L275.8,68.4 L277.3,65.9 L276.7,64.7 L276.3,61.8 L273.3,57.9 L273.2,57.2 L272.5,53.3 L271.2,51.4 L268.5,49.3 L268.6,49.1 L267.8,48.9 L266.2,48.1 L265.5,47.9" stroke="#111" stroke-width="0.5"/>
<path d="M280.0,76.5 L279.7,74.4 L279.4,71.7 L282.1,70.5 L282.5,71.6 L284.1,67.7 L284.9,66.9 L287.2,66.8 L288.0,63.4 L286.7,61.8 L287.2,58.6 L286.5,56.2 L286.4,54.8 L285.8,51.3 L287.3,51.5 L287.0,51.0 L287.4,49.9 L287.8,47.1 L288.4,46.5" stroke="#111" stroke-width="0.5"/>
<path d="M280.0,76.5 L279.7,77.2 L283.2,77.6 L286.6,76.7 L287.0,74.0 L286.7,72.3 L287.5,71.3 L285.7,72.4 L289.5,70.4 L291.2,69.2 L292.3,67.0 L293.0,64.0 L294.1,62.1 L295.3,59.1 L296.2,57.3 L297.8,54.0 L299.1,53.4 L300.7,51.0 L300.9,48.8" stroke="#111" stroke-width="0.5"/>
<path d="M280.0,76.5 L279.6,77.4 L278.1,75.5 L277.3,74.7 L274.8,72.7 L273.4,72.5 L270.5,70.1 L269.9,67.5 L268.7,66.8 L267.3,64.5 L265.9,62.9 L265.0,60.8 L265.2,57.5 L263.6,56.5 L263.6,54.6 L263.0,52.8 L262.6,54.0 L260.8,53.5 L258.3,53.7" stroke="#111" stroke-width="0.5"/>
<path d="M280.0,76.5 L280.6,75.1 L278.2,74.1 L278.8,74.0 L278.9,70.1 L277.0,70.5 L274.5,70.5 L276.0,70.0 L276.5,68.1 L274.0,66.4 L272.8,64.9 L272.7,63.2 L272.0,62.3 L271.1,63.2 L270.7,61.8 L269.5,59.5 L270.3,58.2 L267.9,56.0 L266.8,53.9" stroke="#111" stroke-width="0.5"/>
<path d="M280.0,76.5 L280.7,74.2 L280.5,73.6 L278.2,72.9 L277.4,72.8 L276.0,72.5 L273.1,70.3 L273.4,70.9 L272.6,69.3 L273.2,65.8 L271.4,65.9 L271.5,63.8 L268.3,65.0 L267.7,63.0 L267.1,63.4 L262.9,64.1 L263.1,60.6 L263.4,57.5 L264.1,57.3" stroke="#111" stroke-width="0.5"/>
<path d="M280.0,76.5 L282.4,74.7 L281.8,75.0 L280.4,73.1 L279.4,72.0 L277.4,71.6 L277.5,70.7 L279.2,69.2 L280.3,67.5 L280.7,64.0 L280.4,62.7 L279.2,60.9 L278.2,59.0 L274.8,57.2 L273.5,55.5 L271.5,54.3 L272.0,53.0 L270.8,53.7 L271.5,53.9" stroke="#111" stroke-width="0.5"/>
<path d="M280.0,76.5 L281.2,74.6 L280.7,74.5 L279.6,72.8 L279.8,71.8 L279.1,71.6 L278.5,71.0 L279.6,70.4 L280.2,67.4 L278.2,65.0 L278.5,65.5 L276.6,64.4 L275.1,61.9 L274.4,61.3 L274.4,61.3 L272.8,61.0 L273.7,59.6 L273.9,57.3 L272.2,55.3" stroke="#111" stroke-width="0.5"/>
<path d="M280.0,76.5 L279.2,79.0 L278.6,79.9 L278.9,79.0 L279.8,76.7 L281.0,75.9 L279.1,75.4 L279.8,74.8 L281.9,72.9 L282.6,72.6 L281.4,72.9 L279.6,70.0 L280.3,67.3 L280.1,63.9 L280.2,61.1 L280.7,57.9 L281.3,56.2 L281.4,54.9 L281.6,51.9" stroke="#111" stroke-width="0.5"/>
<path d="M280.0,76.5 L277.2,75.5 L276.6,74.0 L277.7,70.4 L277.3,68.6 L276.5,68.0 L276.9,66.0 L276.2,66.0 L276.0,65.8 L277.1,62.3 L276.3,61.3 L277.3,61.3 L278.9,61.7 L279.0,60.4 L280.6,58.9 L282.6,55.8 L284.0,54.6 L282.0,54.9 L283.0,53.9" stroke="#111" stroke-width="0.5"/>
<path d="M280.0,76.5 L279.1,74.9 L281.7,72.8 L277.7,70.7 L276.7,69.6 L276.7,67.4 L276.1,67.8 L274.8,69.3 L274.7,66.9 L276.2,66.7 L275.4,66.6 L273.6,64.5 L275.6,63.1 L274.4,62.8 L276.2,61.8 L274.3,60.3 L275.4,60.4 L278.4,59.0 L278.3,58.0" stroke="#111" stroke-width="0.5"/>
<path d="M280.0,76.5 L282.3,74.5 L284.6,70.1 L286.3,68.4 L287.6,68.4 L286.8,67.5 L287.8,67.5 L287.2,65.4 L285.4,67.8 L285.9,66.7 L284.6,67.1 L284.6,68.2 L286.4,67.4 L288.0,65.1 L288.3,63.6 L287.3,62.8 L287.8,63.8 L284.1,62.1 L283.6,60.7" stroke="#111" stroke-width="0.5"/>
<path d="M280.0,76.5 L281.0,76.1 L281.6,74.5 L282.7,74.1 L280.8,72.8 L279.5,70.3 L280.2,69.4 L280.8,67.4 L281.0,65.2 L282.0,65.2 L284.8,65.9 L284.2,64.4 L283.5,63.8 L286.6,63.8 L284.2,61.2 L283.0,61.0 L283.5,60.4 L286.3,58.4 L285.7,60.0" stroke="#111" stroke-width="0.5"/>
<path d="M280.0,76.5 L281.4,75.0 L279.7,72.5 L277.5,72.1 L278.5,72.9 L279.3,71.5 L279.3,73.4 L277.9,73.1 L278.9,73.4 L279.3,73.6 L281.4,72.9 L281.7,72.1 L281.4,71.4 L282.0,71.1 L284.7,72.3 L285.0,72.6 L286.4,73.1 L287.4,72.9 L287.7,71.4" stroke="#111" stroke-width="0.5"/>
<path d="M280.0,76.5 L282.0,77.4 L283.8,77.1 L285.0,75.8 L283.6,75.8 L284.8,74.3 L284.4,75.2 L283.0,76.6 L284.7,78.9 L284.7,78.1 L284.9,77.5 L285.5,75.7 L287.8,73.9 L288.1,73.8 L288.3,72.4 L289.6,71.2 L288.9,70.2 L289.5,71.6 L289.0,72.1" stroke="#111" stroke-width="0.5"/>
<path d="M280.0,76.5 L278.2,75.8 L277.1,75.9 L277.4,78.0 L275.8,79.5 L276.4,80.3 L274.7,81.2 L273.8,81.5 L272.7,82.1 L273.4,83.4 L272.3,84.4 L273.5,83.0 L274.6,81.0 L274.6,81.6 L275.8,81.7 L274.4,80.4 L272.0,81.2 L271.0,80.0 L270.9,78.8" stroke="#111" stroke-width="0.5"/>
<path d="M280.0,76.5 L279.3,75.3 L281.2,76.6 L280.9,74.0 L281.0,73.5 L281.3,73.6 L280.7,74.2 L281.6,73.9 L280.9,72.7 L281.7,70.6 L281.3,69.1 L279.3,69.3 L279.1,68.7 L280.1,66.2 L279.8,65.9 L280.7,63.9 L281.5,63.6 L283.1,64.5 L283.6,66.7" stroke="#111" stroke-width="0.5"/>
<path d="M280.0,76.5 L280.5,76.0 L280.5,74.8 L281.0,72.5 L281.4,73.1 L283.1,72.7 L285.4,71.9 L285.7,69.5 L285.2,68.5 L287.6,69.2 L286.7,70.0 L287.8,69.7 L288.3,69.4 L288.1,67.2 L288.5,68.9 L290.8,68.6 L290.3,68.4 L292.0,68.9 L291.7,69.4" stroke="#111" stroke-width="0.5"/>
<path d="M280.0,76.5 L279.7,75.9 L279.2,72.8 L279.2,72.5 L277.8,71.1 L278.8,69.4 L278.0,70.7 L279.0,70.8 L277.8,71.6 L275.7,69.7 L276.6,70.1 L275.3,68.0 L275.6,64.3 L276.3,63.8 L275.7,63.2 L276.7,62.3 L277.3,63.0 L276.7,61.9 L276.0,62.0" stroke="#111" stroke-width="0.5"/>
<path d="M280.0,76.5 L278.8,76.5 L278.3,76.0 L279.9,75.3 L281.0,75.7 L282.0,74.9 L282.5,75.3 L281.1,75.0 L280.2,74.4 L281.2,72.9 L278.5,70.1 L277.2,68.7 L276.6,68.8 L278.1,68.6 L278.1,67.0 L278.1,68.1 L279.2,65.1 L279.6,66.5 L280.0,64.0" stroke="#111" stroke-width="0.5"/>
<path d="M280.0,76.5 L279.5,77.0 L280.0,75.8 L278.8,76.9 L277.0,78.5 L277.0,78.7 L275.2,77.7 L276.0,75.7 L278.5,73.8 L276.9,73.6 L277.4,74.3 L276.9,73.9 L276.5,73.0 L273.2,74.0 L273.4,74.0 L272.6,74.1 L272.5,73.9 L273.8,71.5 L274.0,70.0" stroke="#111" stroke-width="0.5"/>
<path d="M280.0,76.5 L279.2,77.7 L277.4,76.9 L276.2,77.3 L274.5,74.5 L274.7,73.4 L273.9,74.1 L272.3,72.9 L272.1,72.7 L271.0,73.3 L273.3,72.1 L275.2,68.8 L276.5,67.6 L276.2,66.5 L275.0,64.2 L274.1,65.2 L275.0,64.0 L273.9,62.4 L272.0,64.0" stroke="#111" stroke-width="0.5"/>
<path d="M280.0,76.5 L281.4,75.2 L281.3,72.4 L283.4,71.9 L282.8,71.7 L281.9,71.0 L281.3,69.0 L282.4,68.1 L284.2,65.6 L286.7,65.8 L287.2,64.9 L286.8,63.2 L285.6,61.8 L286.4,62.0 L288.1,61.6 L288.2,59.8 L288.3,58.6 L286.4,58.1 L285.0,56.0" stroke="#111" stroke-width="0.5"/>
<path d="M280.0,76.5 L279.3,75.6 L280.7,75.3 L282.0,76.5 L280.7,76.8 L281.6,76.2 L281.0,75.2 L280.4,74.6 L279.8,75.6 L280.8,75.5 L280.4,76.4 L279.3,74.8 L280.0,73.5 L280.5,72.0 L282.1,70.5 L282.4,72.1 L280.5,73.8 L278.8,71.3 L279.0,72.0" stroke="#111" stroke-width="0.5"/>
<path d="M280.0,76.5 L280.1,73.3 L280.4,72.9 L280.3,72.5 L278.5,71.8 L281.1,73.7 L281.0,72.7 L281.9,74.0 L283.2,72.5 L283.8,72.7 L285.9,74.1 L287.0,75.6 L286.8,77.5 L286.7,78.0 L288.2,76.8 L287.7,74.6 L288.3,74.5 L288.3,75.1 L286.0,75.0" stroke="#111" stroke-width="0.5"/>
</g>
<circle cx="283.0" cy="31.1" r="1.15" fill="#000"/>
<circle cx="260.8" cy="37.1" r="1.15" fill="#000"/>
<circle cx="273.6" cy="44.5" r="1.15" fill="#000"/>
<circle cx="265.5" cy="47.9" r="1.15" fill="#000"/>
<circle cx="288.4" cy="46.5" r="1.15" fill="#000"/>
<circle cx="300.9" cy="48.8" r="1.15" fill="#000"/>
<circle cx="258.3" cy="53.7" r="1.15" fill="#000"/>
<circle cx="266.8" cy="53.9" r="1.15" fill="#000"/>
<circle cx="264.1" cy="57.3" r="1.15" fill="#000"/>
<circle cx="271.5" cy="53.9" r="1.15" fill="#000"/>
<circle cx="272.2" cy="55.3" r="1.15" fill="#000"/>
<circle cx="281.6" cy="51.9" r="1.15" fill="#000"/>
<circle cx="283.0" cy="53.9" r="1.15" fill="#000"/>
<circle cx="278.3" cy="58.0" r="1.15" fill="#000"/>
<circle cx="283.6" cy="60.7" r="1.15" fill="#000"/>
<circle cx="285.7" cy="60.0" r="1.15" fill="#000"/>
<circle cx="287.7" cy="71.4" r="1.15" fill="#000"/>
<circle cx="289.0" cy="72.1" r="1.15" fill="#000"/>
<circle cx="270.9" cy="78.8" r="1.15" fill="#000"/>
<circle cx="283.6" cy="66.7" r="1.15" fill="#000"/>
<circle cx="291.7" cy="69.4" r="1.15" fill="#000"/>
<circle cx="276.0" cy="62.0" r="1.15" fill="#000"/>
<circle cx="280.0" cy="64.0" r="1.15" fill="#000"/>
<circle cx="274.0" cy="70.0" r="1.15" fill="#000"/>
<circle cx="272.0" cy="64.0" r="1.15" fill="#000"/>
<circle cx="285.0" cy="56.0" r="1.15" fill="#000"/>
<circle cx="279.0" cy="72.0" r="1.15" fill="#000"/>
<circle cx="286.0" cy="75.0" r="1.15" fill="#000"/>
<g fill="none" stroke-linejoin="round" stroke-linecap="round">
<path d="M456.0,80.5 L455.4,79.5 L455.1,79.5 L454.3,78.2 L453.3,77.4 L453.0,76.1 L452.8,74.8" stroke="#111" stroke-width="0.5"/>
<path d="M456.0,80.5 L456.5,79.4 L456.8,79.0 L456.7,77.6 L457.0,76.7 L456.5,75.4 L456.2,74.4" stroke="#111" stroke-width="0.5"/>
<path d="M456.0,80.5 L457.3,79.8 L457.8,79.1 L457.0,78.8 L457.9,78.1 L458.3,77.0 L458.8,76.9" stroke="#111" stroke-width="0.5"/>
<path d="M456.0,80.5 L455.4,80.9 L453.7,80.5 L453.3,80.2 L451.9,79.7 L452.0,78.9 L451.0,78.1" stroke="#111" stroke-width="0.5"/>
<path d="M456.0,80.5 L456.9,80.7 L458.4,79.6 L460.2,79.2 L461.1,79.9 L462.2,79.2 L463.1,78.8" stroke="#111" stroke-width="0.5"/>
<path d="M456.0,80.5 L454.9,80.3 L454.7,80.4 L453.4,81.8 L452.4,81.8 L451.8,82.1 L451.0,82.3" stroke="#111" stroke-width="0.5"/>
<path d="M456.0,80.5 L457.6,81.3 L457.7,82.2 L457.9,82.8 L458.6,83.7 L459.1,84.9 L459.6,85.0" stroke="#111" stroke-width="0.5"/>
<path d="M456.0,80.5 L455.9,81.3 L455.9,82.0 L455.6,83.1 L453.8,83.4 L452.7,85.1 L451.2,86.5" stroke="#111" stroke-width="0.5"/>
<path d="M456.0,80.5 L456.4,81.8 L456.6,82.5 L456.4,83.7 L456.5,85.0 L456.2,85.7 L455.8,86.9" stroke="#111" stroke-width="0.5"/>
</g>
<circle cx="452.8" cy="74.8" r="1.2" fill="#000"/>
<circle cx="456.2" cy="74.4" r="1.2" fill="#000"/>
<circle cx="458.8" cy="76.9" r="1.2" fill="#000"/>
<circle cx="451.0" cy="78.1" r="1.2" fill="#000"/>
<circle cx="463.1" cy="78.8" r="1.2" fill="#000"/>
<circle cx="451.0" cy="82.3" r="1.2" fill="#000"/>
<circle cx="459.6" cy="85.0" r="1.2" fill="#000"/>
<circle cx="451.2" cy="86.5" r="1.2" fill="#000"/>
<circle cx="455.8" cy="86.9" r="1.2" fill="#000"/>
<ellipse cx="456.2" cy="80.5" rx="3.6" ry="5.0" fill="#000"/>
<g fill="none" stroke="#111" stroke-width="0.7" stroke-linejoin="round">
<path d="M456.0,80.5 L455.0,80.4 L454.2,80.5 L454.2,80.8 L453.6,81.3 L453.0,81.5 L452.5,82.0"/>
<path d="M456.0,80.5 L456.8,80.5 L456.9,79.6 L457.4,79.5 L458.4,78.8 L458.7,78.7 L458.9,78.4"/>
<path d="M456.0,80.5 L455.3,79.8 L453.9,79.2 L453.5,79.8 L453.3,80.1 L453.0,80.1 L452.3,80.2"/>
<path d="M456.0,80.5 L456.8,80.6 L456.1,82.1 L456.0,83.0 L456.3,82.7 L457.5,84.1 L457.4,84.8"/>
<path d="M456.0,80.5 L455.4,79.0 L454.7,78.3 L454.7,77.8 L454.1,77.6 L452.9,77.2 L452.9,76.0"/>
<path d="M456.0,80.5 L455.2,80.4 L455.7,81.1 L456.9,80.9 L457.2,81.8 L457.4,80.8 L458.2,82.6"/>
<path d="M456.0,80.5 L457.0,80.2 L457.1,80.6 L459.0,81.3 L459.5,82.5 L459.8,83.9 L459.8,83.8"/>
<path d="M456.0,80.5 L456.3,81.0 L456.6,80.7 L455.3,79.9 L454.8,79.2 L455.1,78.6 L455.4,78.2"/>
<path d="M456.0,80.5 L456.7,80.3 L457.9,80.6 L458.5,80.3 L458.6,81.0 L460.4,80.7 L461.0,79.7"/>
<path d="M456.0,80.5 L455.8,79.7 L456.7,79.0 L455.9,76.6 L456.4,75.8 L455.1,75.0 L453.8,76.2"/>
<path d="M456.0,80.5 L456.6,81.7 L456.4,81.2 L456.3,81.1 L456.6,80.7 L456.0,82.3 L456.9,82.4"/>
<path d="M456.0,80.5 L454.7,81.0 L454.8,80.5 L454.1,80.1 L453.0,79.7 L453.4,80.1 L454.2,80.1"/>
<path d="M456.0,80.5 L456.1,80.5 L456.1,80.3 L455.2,81.2 L456.2,82.3 L457.2,83.0 L456.9,83.7"/>
<path d="M456.0,80.5 L456.4,80.1 L456.1,79.5 L456.7,79.8 L457.1,81.0 L457.8,81.6 L459.2,81.3"/>
<path d="M456.0,80.5 L454.3,81.4 L453.3,82.5 L452.9,83.5 L452.8,82.7 L452.7,82.7 L451.7,82.8"/>
<path d="M456.0,80.5 L455.8,81.1 L455.7,80.1 L454.6,78.7 L453.8,79.1 L452.7,79.2 L452.1,79.9"/>
<path d="M456.0,80.5 L454.9,80.1 L453.8,81.2 L453.8,81.1 L453.3,81.3 L452.8,81.2 L452.0,80.5"/>
<path d="M456.0,80.5 L455.2,81.6 L455.2,81.7 L454.7,81.9 L454.6,81.6 L454.3,81.8 L453.5,81.4"/>
<path d="M456.0,80.5 L456.3,80.3 L457.7,79.3 L458.4,79.4 L458.9,79.9 L460.4,80.3 L461.2,80.4"/>
<path d="M456.0,80.5 L456.4,80.4 L456.7,79.0 L456.5,77.6 L456.1,77.6 L456.8,76.8 L458.2,75.7"/>
<path d="M456.0,80.5 L456.3,81.7 L455.2,81.5 L454.4,82.7 L455.0,82.7 L455.5,83.2 L455.0,83.6"/>
<path d="M456.0,80.5 L455.8,79.8 L455.2,79.4 L455.5,81.1 L457.1,81.3 L456.1,81.4 L455.6,83.0"/>
</g>
<circle cx="452.5" cy="82.0" r="0.9" fill="#000"/>
<circle cx="458.9" cy="78.4" r="0.9" fill="#000"/>
<circle cx="452.3" cy="80.2" r="0.9" fill="#000"/>
<circle cx="457.4" cy="84.8" r="0.9" fill="#000"/>
<circle cx="452.9" cy="76.0" r="0.9" fill="#000"/>
<circle cx="458.2" cy="82.6" r="0.9" fill="#000"/>
<circle cx="459.8" cy="83.8" r="0.9" fill="#000"/>
<circle cx="455.4" cy="78.2" r="0.9" fill="#000"/>
<circle cx="461.0" cy="79.7" r="0.9" fill="#000"/>
<circle cx="453.8" cy="76.2" r="0.9" fill="#000"/>
<line x1="64.00" y1="233.20" x2="64.00" y2="229.80" stroke="#222" stroke-width="1"/>
<line x1="60.60" y1="229.80" x2="67.40" y2="229.80" stroke="#222" stroke-width="1"/>
<rect x="56.60" y="233.60" width="14.80" height="82.00" fill="#a3002a" stroke="#8a001e" stroke-width="0.8"/>
<line x1="86.40" y1="303.40" x2="86.40" y2="300.20" stroke="#222" stroke-width="1"/>
<line x1="83.00" y1="300.20" x2="89.80" y2="300.20" stroke="#222" stroke-width="1"/>
<rect x="79.20" y="303.80" width="14.40" height="11.80" fill="#a3002a" stroke="#8a001e" stroke-width="0.8"/>
<line x1="108.85" y1="240.80" x2="108.85" y2="236.30" stroke="#222" stroke-width="1"/>
<line x1="105.45" y1="236.30" x2="112.25" y2="236.30" stroke="#222" stroke-width="1"/>
<rect x="101.80" y="241.20" width="14.10" height="74.40" fill="#a3002a" stroke="#8a001e" stroke-width="0.8"/>
<line x1="131.15" y1="261.20" x2="131.15" y2="259.30" stroke="#222" stroke-width="1"/>
<line x1="127.75" y1="259.30" x2="134.55" y2="259.30" stroke="#222" stroke-width="1"/>
<rect x="124.00" y="261.60" width="14.30" height="54.00" fill="#2e4a7b" stroke="#1b356a" stroke-width="0.8"/>
<line x1="153.40" y1="296.90" x2="153.40" y2="290.00" stroke="#222" stroke-width="1"/>
<line x1="150.00" y1="290.00" x2="156.80" y2="290.00" stroke="#222" stroke-width="1"/>
<rect x="146.40" y="297.30" width="14.00" height="18.30" fill="#2e4a7b" stroke="#1b356a" stroke-width="0.8"/>
<line x1="175.85" y1="266.50" x2="175.85" y2="264.10" stroke="#222" stroke-width="1"/>
<line x1="172.45" y1="264.10" x2="179.25" y2="264.10" stroke="#222" stroke-width="1"/>
<rect x="168.60" y="266.90" width="14.50" height="48.70" fill="#2e4a7b" stroke="#1b356a" stroke-width="0.8"/>
<line x1="198.30" y1="315.60" x2="198.30" y2="323.00" stroke="#222" stroke-width="1"/>
<line x1="194.90" y1="323.00" x2="201.70" y2="323.00" stroke="#222" stroke-width="1"/>
<line x1="52.80" y1="218.30" x2="52.80" y2="342.00" stroke="#111" stroke-width="1.2"/>
<line x1="52.80" y1="315.60" x2="209.90" y2="315.60" stroke="#111" stroke-width="1.2"/>
<line x1="190.90" y1="316.50" x2="205.70" y2="316.50" stroke="#69a845" stroke-width="1.0"/>
<line x1="49.50" y1="220.80" x2="52.80" y2="220.80" stroke="#111" stroke-width="1"/>
<text x="47.00" y="223.80" font-size="8.4" text-anchor="end" font-weight="normal" fill="#111" >0.8</text>
<line x1="49.50" y1="244.50" x2="52.80" y2="244.50" stroke="#111" stroke-width="1"/>
<text x="47.00" y="247.50" font-size="8.4" text-anchor="end" font-weight="normal" fill="#111" >0.6</text>
<line x1="49.50" y1="268.30" x2="52.80" y2="268.30" stroke="#111" stroke-width="1"/>
<text x="47.00" y="271.30" font-size="8.4" text-anchor="end" font-weight="normal" fill="#111" >0.4</text>
<line x1="49.50" y1="292.00" x2="52.80" y2="292.00" stroke="#111" stroke-width="1"/>
<text x="47.00" y="295.00" font-size="8.4" text-anchor="end" font-weight="normal" fill="#111" >0.2</text>
<line x1="49.50" y1="315.60" x2="52.80" y2="315.60" stroke="#111" stroke-width="1"/>
<text x="47.00" y="318.60" font-size="8.4" text-anchor="end" font-weight="normal" fill="#111" >0.0</text>
<line x1="49.50" y1="339.30" x2="52.80" y2="339.30" stroke="#111" stroke-width="1"/>
<text x="47.00" y="342.30" font-size="8.4" text-anchor="end" font-weight="normal" fill="#111" >-0.2</text>
<line x1="64.00" y1="315.60" x2="64.00" y2="318.10" stroke="#111" stroke-width="0.9"/>
<line x1="86.40" y1="315.60" x2="86.40" y2="318.10" stroke="#111" stroke-width="0.9"/>
<line x1="108.85" y1="315.60" x2="108.85" y2="318.10" stroke="#111" stroke-width="0.9"/>
<line x1="131.15" y1="315.60" x2="131.15" y2="318.10" stroke="#111" stroke-width="0.9"/>
<line x1="153.40" y1="315.60" x2="153.40" y2="318.10" stroke="#111" stroke-width="0.9"/>
<line x1="175.85" y1="315.60" x2="175.85" y2="318.10" stroke="#111" stroke-width="0.9"/>
<line x1="198.30" y1="315.60" x2="198.30" y2="318.10" stroke="#111" stroke-width="0.9"/>
<line x1="66.90" y1="201.80" x2="190.80" y2="201.80" stroke="#383838" stroke-width="1.3"/>
<circle cx="125.80" cy="197.70" r="0.85" fill="#222"/>
<line x1="125.80" y1="196.25" x2="125.80" y2="199.15" stroke="#222" stroke-width="0.75"/>
<line x1="124.54" y1="196.98" x2="127.06" y2="198.43" stroke="#222" stroke-width="0.75"/>
<line x1="127.06" y1="196.98" x2="124.54" y2="198.43" stroke="#222" stroke-width="0.75"/>
<circle cx="129.20" cy="197.70" r="0.85" fill="#222"/>
<line x1="129.20" y1="196.25" x2="129.20" y2="199.15" stroke="#222" stroke-width="0.75"/>
<line x1="127.94" y1="196.98" x2="130.46" y2="198.43" stroke="#222" stroke-width="0.75"/>
<line x1="130.46" y1="196.98" x2="127.94" y2="198.43" stroke="#222" stroke-width="0.75"/>
<circle cx="132.60" cy="197.70" r="0.85" fill="#222"/>
<line x1="132.60" y1="196.25" x2="132.60" y2="199.15" stroke="#222" stroke-width="0.75"/>
<line x1="131.34" y1="196.98" x2="133.86" y2="198.43" stroke="#222" stroke-width="0.75"/>
<line x1="133.86" y1="196.98" x2="131.34" y2="198.43" stroke="#222" stroke-width="0.75"/>
<line x1="66.90" y1="210.50" x2="131.40" y2="210.50" stroke="#383838" stroke-width="1.3"/>
<circle cx="97.30" cy="206.40" r="0.85" fill="#222"/>
<line x1="97.30" y1="204.95" x2="97.30" y2="207.85" stroke="#222" stroke-width="0.75"/>
<line x1="96.04" y1="205.68" x2="98.56" y2="207.12" stroke="#222" stroke-width="0.75"/>
<line x1="98.56" y1="205.68" x2="96.04" y2="207.12" stroke="#222" stroke-width="0.75"/>
<circle cx="100.70" cy="206.40" r="0.85" fill="#222"/>
<line x1="100.70" y1="204.95" x2="100.70" y2="207.85" stroke="#222" stroke-width="0.75"/>
<line x1="99.44" y1="205.68" x2="101.96" y2="207.12" stroke="#222" stroke-width="0.75"/>
<line x1="101.96" y1="205.68" x2="99.44" y2="207.12" stroke="#222" stroke-width="0.75"/>
<line x1="66.90" y1="219.40" x2="86.50" y2="219.40" stroke="#383838" stroke-width="1.3"/>
<circle cx="72.90" cy="215.30" r="0.85" fill="#222"/>
<line x1="72.90" y1="213.85" x2="72.90" y2="216.75" stroke="#222" stroke-width="0.75"/>
<line x1="71.64" y1="214.58" x2="74.16" y2="216.03" stroke="#222" stroke-width="0.75"/>
<line x1="74.16" y1="214.58" x2="71.64" y2="216.03" stroke="#222" stroke-width="0.75"/>
<circle cx="76.30" cy="215.30" r="0.85" fill="#222"/>
<line x1="76.30" y1="213.85" x2="76.30" y2="216.75" stroke="#222" stroke-width="0.75"/>
<line x1="75.04" y1="214.58" x2="77.56" y2="216.03" stroke="#222" stroke-width="0.75"/>
<line x1="77.56" y1="214.58" x2="75.04" y2="216.03" stroke="#222" stroke-width="0.75"/>
<circle cx="79.70" cy="215.30" r="0.85" fill="#222"/>
<line x1="79.70" y1="213.85" x2="79.70" y2="216.75" stroke="#222" stroke-width="0.75"/>
<line x1="78.44" y1="214.58" x2="80.96" y2="216.03" stroke="#222" stroke-width="0.75"/>
<line x1="80.96" y1="214.58" x2="78.44" y2="216.03" stroke="#222" stroke-width="0.75"/>
<line x1="131.40" y1="228.00" x2="198.40" y2="228.00" stroke="#383838" stroke-width="1.3"/>
<circle cx="161.20" cy="223.90" r="0.85" fill="#222"/>
<line x1="161.20" y1="222.45" x2="161.20" y2="225.35" stroke="#222" stroke-width="0.75"/>
<line x1="159.94" y1="223.18" x2="162.46" y2="224.62" stroke="#222" stroke-width="0.75"/>
<line x1="162.46" y1="223.18" x2="159.94" y2="224.62" stroke="#222" stroke-width="0.75"/>
<circle cx="164.60" cy="223.90" r="0.85" fill="#222"/>
<line x1="164.60" y1="222.45" x2="164.60" y2="225.35" stroke="#222" stroke-width="0.75"/>
<line x1="163.34" y1="223.18" x2="165.86" y2="224.62" stroke="#222" stroke-width="0.75"/>
<line x1="165.86" y1="223.18" x2="163.34" y2="224.62" stroke="#222" stroke-width="0.75"/>
<circle cx="168.00" cy="223.90" r="0.85" fill="#222"/>
<line x1="168.00" y1="222.45" x2="168.00" y2="225.35" stroke="#222" stroke-width="0.75"/>
<line x1="166.74" y1="223.18" x2="169.26" y2="224.62" stroke="#222" stroke-width="0.75"/>
<line x1="169.26" y1="223.18" x2="166.74" y2="224.62" stroke="#222" stroke-width="0.75"/>
<line x1="131.40" y1="236.90" x2="158.80" y2="236.90" stroke="#383838" stroke-width="1.3"/>
<circle cx="141.80" cy="232.80" r="0.85" fill="#222"/>
<line x1="141.80" y1="231.35" x2="141.80" y2="234.25" stroke="#222" stroke-width="0.75"/>
<line x1="140.54" y1="232.08" x2="143.06" y2="233.53" stroke="#222" stroke-width="0.75"/>
<line x1="143.06" y1="232.08" x2="140.54" y2="233.53" stroke="#222" stroke-width="0.75"/>
<circle cx="145.20" cy="232.80" r="0.85" fill="#222"/>
<line x1="145.20" y1="231.35" x2="145.20" y2="234.25" stroke="#222" stroke-width="0.75"/>
<line x1="143.94" y1="232.08" x2="146.46" y2="233.53" stroke="#222" stroke-width="0.75"/>
<line x1="146.46" y1="232.08" x2="143.94" y2="233.53" stroke="#222" stroke-width="0.75"/>
<circle cx="148.60" cy="232.80" r="0.85" fill="#222"/>
<line x1="148.60" y1="231.35" x2="148.60" y2="234.25" stroke="#222" stroke-width="0.75"/>
<line x1="147.34" y1="232.08" x2="149.86" y2="233.53" stroke="#222" stroke-width="0.75"/>
<line x1="149.86" y1="232.08" x2="147.34" y2="233.53" stroke="#222" stroke-width="0.75"/>
<text x="0" y="0" font-size="9" text-anchor="start" fill="#111" textLength="13.00" lengthAdjust="spacingAndGlyphs" transform="translate(27.40,286.60) rotate(-90)">FMI</text>
<text x="0" y="0" font-size="8.3" text-anchor="end" fill="#111" transform="translate(67.00,328.10) rotate(-45)">WT</text>
<text x="0" y="0" font-size="8.3" text-anchor="end" fill="#111" transform="translate(89.40,328.10) rotate(-45)">WT Mac1 AB</text>
<text x="0" y="0" font-size="8.3" text-anchor="end" fill="#111" transform="translate(111.85,328.10) rotate(-45)">WT LFA AB</text>
<text x="0" y="0" font-size="8.3" text-anchor="end" fill="#111" transform="translate(134.15,328.10) rotate(-45)">Sell-/-</text>
<text x="0" y="0" font-size="8.3" text-anchor="end" fill="#111" transform="translate(156.40,328.10) rotate(-45)">Sell-/- Mac1 AB</text>
<text x="0" y="0" font-size="8.3" text-anchor="end" fill="#111" transform="translate(178.85,328.10) rotate(-45)">Sell-/- LFA AB</text>
<text x="0" y="0" font-size="8.3" text-anchor="end" fill="#111" transform="translate(201.30,328.10) rotate(-45)">CD18-/-</text>
<line x1="281.85" y1="227.10" x2="281.85" y2="225.50" stroke="#222" stroke-width="1"/>
<line x1="278.45" y1="225.50" x2="285.25" y2="225.50" stroke="#222" stroke-width="1"/>
<rect x="274.60" y="227.50" width="14.50" height="88.00" fill="#a3002a" stroke="#8a001e" stroke-width="0.8"/>
<line x1="303.85" y1="283.80" x2="303.85" y2="281.40" stroke="#222" stroke-width="1"/>
<line x1="300.45" y1="281.40" x2="307.25" y2="281.40" stroke="#222" stroke-width="1"/>
<rect x="296.60" y="284.20" width="14.50" height="31.30" fill="#a3002a" stroke="#8a001e" stroke-width="0.8"/>
<line x1="325.50" y1="236.20" x2="325.50" y2="232.30" stroke="#222" stroke-width="1"/>
<line x1="322.10" y1="232.30" x2="328.90" y2="232.30" stroke="#222" stroke-width="1"/>
<rect x="318.30" y="236.60" width="14.40" height="78.90" fill="#a3002a" stroke="#8a001e" stroke-width="0.8"/>
<line x1="347.55" y1="255.20" x2="347.55" y2="252.80" stroke="#222" stroke-width="1"/>
<line x1="344.15" y1="252.80" x2="350.95" y2="252.80" stroke="#222" stroke-width="1"/>
<rect x="340.60" y="255.60" width="13.90" height="59.90" fill="#2e4a7b" stroke="#1b356a" stroke-width="0.8"/>
<line x1="369.25" y1="279.20" x2="369.25" y2="277.10" stroke="#222" stroke-width="1"/>
<line x1="365.85" y1="277.10" x2="372.65" y2="277.10" stroke="#222" stroke-width="1"/>
<rect x="362.10" y="279.60" width="14.30" height="35.90" fill="#2e4a7b" stroke="#1b356a" stroke-width="0.8"/>
<line x1="391.20" y1="250.90" x2="391.20" y2="241.70" stroke="#222" stroke-width="1"/>
<line x1="387.80" y1="241.70" x2="394.60" y2="241.70" stroke="#222" stroke-width="1"/>
<rect x="384.20" y="251.30" width="14.00" height="64.20" fill="#2e4a7b" stroke="#1b356a" stroke-width="0.8"/>
<line x1="412.75" y1="297.00" x2="412.75" y2="294.20" stroke="#222" stroke-width="1"/>
<line x1="409.35" y1="294.20" x2="416.15" y2="294.20" stroke="#222" stroke-width="1"/>
<rect x="405.50" y="297.40" width="14.50" height="18.10" fill="#69a845" stroke="#5a9a3a" stroke-width="0.8"/>
<line x1="270.90" y1="208.20" x2="270.90" y2="315.50" stroke="#111" stroke-width="1.2"/>
<line x1="270.90" y1="315.50" x2="424.60" y2="315.50" stroke="#111" stroke-width="1.2"/>
<line x1="267.60" y1="211.00" x2="270.90" y2="211.00" stroke="#111" stroke-width="1"/>
<text x="265.10" y="214.00" font-size="8.4" text-anchor="end" font-weight="normal" fill="#111" >500</text>
<line x1="267.60" y1="231.90" x2="270.90" y2="231.90" stroke="#111" stroke-width="1"/>
<text x="265.10" y="234.90" font-size="8.4" text-anchor="end" font-weight="normal" fill="#111" >400</text>
<line x1="267.60" y1="252.80" x2="270.90" y2="252.80" stroke="#111" stroke-width="1"/>
<text x="265.10" y="255.80" font-size="8.4" text-anchor="end" font-weight="normal" fill="#111" >300</text>
<line x1="267.60" y1="273.70" x2="270.90" y2="273.70" stroke="#111" stroke-width="1"/>
<text x="265.10" y="276.70" font-size="8.4" text-anchor="end" font-weight="normal" fill="#111" >200</text>
<line x1="267.60" y1="294.60" x2="270.90" y2="294.60" stroke="#111" stroke-width="1"/>
<text x="265.10" y="297.60" font-size="8.4" text-anchor="end" font-weight="normal" fill="#111" >100</text>
<line x1="267.60" y1="315.50" x2="270.90" y2="315.50" stroke="#111" stroke-width="1"/>
<text x="265.10" y="318.50" font-size="8.4" text-anchor="end" font-weight="normal" fill="#111" >0</text>
<line x1="281.85" y1="315.50" x2="281.85" y2="318.00" stroke="#111" stroke-width="0.9"/>
<line x1="303.85" y1="315.50" x2="303.85" y2="318.00" stroke="#111" stroke-width="0.9"/>
<line x1="325.50" y1="315.50" x2="325.50" y2="318.00" stroke="#111" stroke-width="0.9"/>
<line x1="347.55" y1="315.50" x2="347.55" y2="318.00" stroke="#111" stroke-width="0.9"/>
<line x1="369.25" y1="315.50" x2="369.25" y2="318.00" stroke="#111" stroke-width="0.9"/>
<line x1="391.20" y1="315.50" x2="391.20" y2="318.00" stroke="#111" stroke-width="0.9"/>
<line x1="412.75" y1="315.50" x2="412.75" y2="318.00" stroke="#111" stroke-width="0.9"/>
<line x1="281.20" y1="199.30" x2="404.60" y2="199.30" stroke="#383838" stroke-width="1.3"/>
<circle cx="339.60" cy="195.20" r="0.85" fill="#222"/>
<line x1="339.60" y1="193.75" x2="339.60" y2="196.65" stroke="#222" stroke-width="0.75"/>
<line x1="338.34" y1="194.48" x2="340.86" y2="195.93" stroke="#222" stroke-width="0.75"/>
<line x1="340.86" y1="194.48" x2="338.34" y2="195.93" stroke="#222" stroke-width="0.75"/>
<circle cx="343.00" cy="195.20" r="0.85" fill="#222"/>
<line x1="343.00" y1="193.75" x2="343.00" y2="196.65" stroke="#222" stroke-width="0.75"/>
<line x1="341.74" y1="194.48" x2="344.26" y2="195.93" stroke="#222" stroke-width="0.75"/>
<line x1="344.26" y1="194.48" x2="341.74" y2="195.93" stroke="#222" stroke-width="0.75"/>
<circle cx="346.40" cy="195.20" r="0.85" fill="#222"/>
<line x1="346.40" y1="193.75" x2="346.40" y2="196.65" stroke="#222" stroke-width="0.75"/>
<line x1="345.14" y1="194.48" x2="347.66" y2="195.93" stroke="#222" stroke-width="0.75"/>
<line x1="347.66" y1="194.48" x2="345.14" y2="195.93" stroke="#222" stroke-width="0.75"/>
<line x1="281.20" y1="210.40" x2="307.90" y2="210.40" stroke="#383838" stroke-width="1.3"/>
<circle cx="291.20" cy="206.30" r="0.85" fill="#222"/>
<line x1="291.20" y1="204.85" x2="291.20" y2="207.75" stroke="#222" stroke-width="0.75"/>
<line x1="289.94" y1="205.58" x2="292.46" y2="207.03" stroke="#222" stroke-width="0.75"/>
<line x1="292.46" y1="205.58" x2="289.94" y2="207.03" stroke="#222" stroke-width="0.75"/>
<circle cx="294.60" cy="206.30" r="0.85" fill="#222"/>
<line x1="294.60" y1="204.85" x2="294.60" y2="207.75" stroke="#222" stroke-width="0.75"/>
<line x1="293.34" y1="205.58" x2="295.86" y2="207.03" stroke="#222" stroke-width="0.75"/>
<line x1="295.86" y1="205.58" x2="293.34" y2="207.03" stroke="#222" stroke-width="0.75"/>
<circle cx="298.00" cy="206.30" r="0.85" fill="#222"/>
<line x1="298.00" y1="204.85" x2="298.00" y2="207.75" stroke="#222" stroke-width="0.75"/>
<line x1="296.74" y1="205.58" x2="299.26" y2="207.03" stroke="#222" stroke-width="0.75"/>
<line x1="299.26" y1="205.58" x2="296.74" y2="207.03" stroke="#222" stroke-width="0.75"/>
<line x1="281.20" y1="221.80" x2="346.90" y2="221.80" stroke="#383838" stroke-width="1.3"/>
<circle cx="312.30" cy="217.70" r="0.85" fill="#222"/>
<line x1="312.30" y1="216.25" x2="312.30" y2="219.15" stroke="#222" stroke-width="0.75"/>
<line x1="311.04" y1="216.98" x2="313.56" y2="218.43" stroke="#222" stroke-width="0.75"/>
<line x1="313.56" y1="216.98" x2="311.04" y2="218.43" stroke="#222" stroke-width="0.75"/>
<circle cx="315.70" cy="217.70" r="0.85" fill="#222"/>
<line x1="315.70" y1="216.25" x2="315.70" y2="219.15" stroke="#222" stroke-width="0.75"/>
<line x1="314.44" y1="216.98" x2="316.96" y2="218.43" stroke="#222" stroke-width="0.75"/>
<line x1="316.96" y1="216.98" x2="314.44" y2="218.43" stroke="#222" stroke-width="0.75"/>
<line x1="338.50" y1="233.50" x2="405.40" y2="233.50" stroke="#383838" stroke-width="1.3"/>
<circle cx="368.80" cy="229.40" r="0.85" fill="#222"/>
<line x1="368.80" y1="227.95" x2="368.80" y2="230.85" stroke="#222" stroke-width="0.75"/>
<line x1="367.54" y1="228.68" x2="370.06" y2="230.12" stroke="#222" stroke-width="0.75"/>
<line x1="370.06" y1="228.68" x2="367.54" y2="230.12" stroke="#222" stroke-width="0.75"/>
<circle cx="372.20" cy="229.40" r="0.85" fill="#222"/>
<line x1="372.20" y1="227.95" x2="372.20" y2="230.85" stroke="#222" stroke-width="0.75"/>
<line x1="370.94" y1="228.68" x2="373.46" y2="230.12" stroke="#222" stroke-width="0.75"/>
<line x1="373.46" y1="228.68" x2="370.94" y2="230.12" stroke="#222" stroke-width="0.75"/>
<circle cx="375.60" cy="229.40" r="0.85" fill="#222"/>
<line x1="375.60" y1="227.95" x2="375.60" y2="230.85" stroke="#222" stroke-width="0.75"/>
<line x1="374.34" y1="228.68" x2="376.86" y2="230.12" stroke="#222" stroke-width="0.75"/>
<line x1="376.86" y1="228.68" x2="374.34" y2="230.12" stroke="#222" stroke-width="0.75"/>
<line x1="338.50" y1="245.20" x2="366.00" y2="245.20" stroke="#383838" stroke-width="1.3"/>
<circle cx="352.20" cy="241.10" r="0.85" fill="#222"/>
<line x1="352.20" y1="239.65" x2="352.20" y2="242.55" stroke="#222" stroke-width="0.75"/>
<line x1="350.94" y1="240.38" x2="353.46" y2="241.82" stroke="#222" stroke-width="0.75"/>
<line x1="353.46" y1="240.38" x2="350.94" y2="241.82" stroke="#222" stroke-width="0.75"/>
<text x="0" y="0" font-size="9.8" text-anchor="start" fill="#111" textLength="75.60" lengthAdjust="spacingAndGlyphs" transform="translate(245.60,309.40) rotate(-90)">Accumulated distance</text>
<text x="0" y="0" font-size="9.8" text-anchor="start" fill="#111" textLength="17.40" lengthAdjust="spacingAndGlyphs" transform="translate(245.60,232.30) rotate(-90)">[µm]</text>
<text x="0" y="0" font-size="8.3" text-anchor="end" fill="#111" transform="translate(284.85,324.70) rotate(-45)">WT</text>
<text x="0" y="0" font-size="8.3" text-anchor="end" fill="#111" transform="translate(306.85,324.70) rotate(-45)">WT Mac1 AB</text>
<text x="0" y="0" font-size="8.3" text-anchor="end" fill="#111" transform="translate(328.50,324.70) rotate(-45)">WT LFA AB</text>
<text x="0" y="0" font-size="8.3" text-anchor="end" fill="#111" transform="translate(350.55,324.70) rotate(-45)">Sell-/-</text>
<text x="0" y="0" font-size="8.3" text-anchor="end" fill="#111" transform="translate(372.25,324.70) rotate(-45)">Sell-/- Mac1 AB</text>
<text x="0" y="0" font-size="8.3" text-anchor="end" fill="#111" transform="translate(394.20,324.70) rotate(-45)">Sell-/- LFA AB</text>
<text x="0" y="0" font-size="8.3" text-anchor="end" fill="#111" transform="translate(415.75,324.70) rotate(-45)">CD18-/-</text>
<line x1="63.60" y1="450.80" x2="63.60" y2="446.80" stroke="#222" stroke-width="1"/>
<line x1="60.20" y1="446.80" x2="67.00" y2="446.80" stroke="#222" stroke-width="1"/>
<rect x="56.60" y="451.20" width="14.00" height="75.10" fill="#a3002a" stroke="#8a001e" stroke-width="0.8"/>
<line x1="85.70" y1="513.80" x2="85.70" y2="513.00" stroke="#222" stroke-width="1"/>
<line x1="82.30" y1="513.00" x2="89.10" y2="513.00" stroke="#222" stroke-width="1"/>
<rect x="78.70" y="514.20" width="14.00" height="12.10" fill="#a3002a" stroke="#8a001e" stroke-width="0.8"/>
<line x1="107.60" y1="458.20" x2="107.60" y2="451.60" stroke="#222" stroke-width="1"/>
<line x1="104.20" y1="451.60" x2="111.00" y2="451.60" stroke="#222" stroke-width="1"/>
<rect x="100.60" y="458.60" width="14.00" height="67.70" fill="#a3002a" stroke="#8a001e" stroke-width="0.8"/>
<line x1="129.40" y1="482.50" x2="129.40" y2="480.00" stroke="#222" stroke-width="1"/>
<line x1="126.00" y1="480.00" x2="132.80" y2="480.00" stroke="#222" stroke-width="1"/>
<rect x="122.40" y="482.90" width="14.00" height="43.40" fill="#2e4a7b" stroke="#1b356a" stroke-width="0.8"/>
<line x1="151.10" y1="508.00" x2="151.10" y2="505.40" stroke="#222" stroke-width="1"/>
<line x1="147.70" y1="505.40" x2="154.50" y2="505.40" stroke="#222" stroke-width="1"/>
<rect x="144.20" y="508.40" width="13.80" height="17.90" fill="#2e4a7b" stroke="#1b356a" stroke-width="0.8"/>
<line x1="173.00" y1="489.20" x2="173.00" y2="481.50" stroke="#222" stroke-width="1"/>
<line x1="169.60" y1="481.50" x2="176.40" y2="481.50" stroke="#222" stroke-width="1"/>
<rect x="166.10" y="489.60" width="13.80" height="36.70" fill="#2e4a7b" stroke="#1b356a" stroke-width="0.8"/>
<line x1="194.80" y1="521.00" x2="194.80" y2="519.80" stroke="#222" stroke-width="1"/>
<line x1="191.40" y1="519.80" x2="198.20" y2="519.80" stroke="#222" stroke-width="1"/>
<rect x="187.90" y="521.40" width="13.80" height="4.90" fill="#69a845" stroke="#5a9a3a" stroke-width="0.8"/>
<line x1="52.40" y1="417.00" x2="52.40" y2="526.30" stroke="#111" stroke-width="1.2"/>
<line x1="52.40" y1="526.30" x2="205.40" y2="526.30" stroke="#111" stroke-width="1.2"/>
<line x1="49.10" y1="420.00" x2="52.40" y2="420.00" stroke="#111" stroke-width="1"/>
<text x="46.60" y="423.00" font-size="8.4" text-anchor="end" font-weight="normal" fill="#111" >400</text>
<line x1="49.10" y1="446.60" x2="52.40" y2="446.60" stroke="#111" stroke-width="1"/>
<text x="46.60" y="449.60" font-size="8.4" text-anchor="end" font-weight="normal" fill="#111" >300</text>
<line x1="49.10" y1="473.20" x2="52.40" y2="473.20" stroke="#111" stroke-width="1"/>
<text x="46.60" y="476.20" font-size="8.4" text-anchor="end" font-weight="normal" fill="#111" >200</text>
<line x1="49.10" y1="499.80" x2="52.40" y2="499.80" stroke="#111" stroke-width="1"/>
<text x="46.60" y="502.80" font-size="8.4" text-anchor="end" font-weight="normal" fill="#111" >100</text>
<line x1="49.10" y1="526.30" x2="52.40" y2="526.30" stroke="#111" stroke-width="1"/>
<text x="46.60" y="529.30" font-size="8.4" text-anchor="end" font-weight="normal" fill="#111" >0</text>
<line x1="63.60" y1="526.30" x2="63.60" y2="528.80" stroke="#111" stroke-width="0.9"/>
<line x1="85.70" y1="526.30" x2="85.70" y2="528.80" stroke="#111" stroke-width="0.9"/>
<line x1="107.60" y1="526.30" x2="107.60" y2="528.80" stroke="#111" stroke-width="0.9"/>
<line x1="129.40" y1="526.30" x2="129.40" y2="528.80" stroke="#111" stroke-width="0.9"/>
<line x1="151.10" y1="526.30" x2="151.10" y2="528.80" stroke="#111" stroke-width="0.9"/>
<line x1="173.00" y1="526.30" x2="173.00" y2="528.80" stroke="#111" stroke-width="0.9"/>
<line x1="194.80" y1="526.30" x2="194.80" y2="528.80" stroke="#111" stroke-width="0.9"/>
<line x1="60.90" y1="413.80" x2="189.10" y2="413.80" stroke="#383838" stroke-width="1.3"/>
<circle cx="121.40" cy="409.70" r="0.85" fill="#222"/>
<line x1="121.40" y1="408.25" x2="121.40" y2="411.15" stroke="#222" stroke-width="0.75"/>
<line x1="120.14" y1="408.97" x2="122.66" y2="410.43" stroke="#222" stroke-width="0.75"/>
<line x1="122.66" y1="408.97" x2="120.14" y2="410.43" stroke="#222" stroke-width="0.75"/>
<circle cx="124.80" cy="409.70" r="0.85" fill="#222"/>
<line x1="124.80" y1="408.25" x2="124.80" y2="411.15" stroke="#222" stroke-width="0.75"/>
<line x1="123.54" y1="408.97" x2="126.06" y2="410.43" stroke="#222" stroke-width="0.75"/>
<line x1="126.06" y1="408.97" x2="123.54" y2="410.43" stroke="#222" stroke-width="0.75"/>
<circle cx="128.20" cy="409.70" r="0.85" fill="#222"/>
<line x1="128.20" y1="408.25" x2="128.20" y2="411.15" stroke="#222" stroke-width="0.75"/>
<line x1="126.94" y1="408.97" x2="129.46" y2="410.43" stroke="#222" stroke-width="0.75"/>
<line x1="129.46" y1="408.97" x2="126.94" y2="410.43" stroke="#222" stroke-width="0.75"/>
<line x1="60.90" y1="422.50" x2="129.40" y2="422.50" stroke="#383838" stroke-width="1.3"/>
<circle cx="91.80" cy="418.40" r="0.85" fill="#222"/>
<line x1="91.80" y1="416.95" x2="91.80" y2="419.85" stroke="#222" stroke-width="0.75"/>
<line x1="90.54" y1="417.67" x2="93.06" y2="419.12" stroke="#222" stroke-width="0.75"/>
<line x1="93.06" y1="417.67" x2="90.54" y2="419.12" stroke="#222" stroke-width="0.75"/>
<circle cx="95.20" cy="418.40" r="0.85" fill="#222"/>
<line x1="95.20" y1="416.95" x2="95.20" y2="419.85" stroke="#222" stroke-width="0.75"/>
<line x1="93.94" y1="417.67" x2="96.46" y2="419.12" stroke="#222" stroke-width="0.75"/>
<line x1="96.46" y1="417.67" x2="93.94" y2="419.12" stroke="#222" stroke-width="0.75"/>
<circle cx="98.60" cy="418.40" r="0.85" fill="#222"/>
<line x1="98.60" y1="416.95" x2="98.60" y2="419.85" stroke="#222" stroke-width="0.75"/>
<line x1="97.34" y1="417.67" x2="99.86" y2="419.12" stroke="#222" stroke-width="0.75"/>
<line x1="99.86" y1="417.67" x2="97.34" y2="419.12" stroke="#222" stroke-width="0.75"/>
<line x1="60.90" y1="431.40" x2="87.80" y2="431.40" stroke="#383838" stroke-width="1.3"/>
<circle cx="71.20" cy="427.30" r="0.85" fill="#222"/>
<line x1="71.20" y1="425.85" x2="71.20" y2="428.75" stroke="#222" stroke-width="0.75"/>
<line x1="69.94" y1="426.57" x2="72.46" y2="428.02" stroke="#222" stroke-width="0.75"/>
<line x1="72.46" y1="426.57" x2="69.94" y2="428.02" stroke="#222" stroke-width="0.75"/>
<circle cx="74.60" cy="427.30" r="0.85" fill="#222"/>
<line x1="74.60" y1="425.85" x2="74.60" y2="428.75" stroke="#222" stroke-width="0.75"/>
<line x1="73.34" y1="426.57" x2="75.86" y2="428.02" stroke="#222" stroke-width="0.75"/>
<line x1="75.86" y1="426.57" x2="73.34" y2="428.02" stroke="#222" stroke-width="0.75"/>
<circle cx="78.00" cy="427.30" r="0.85" fill="#222"/>
<line x1="78.00" y1="425.85" x2="78.00" y2="428.75" stroke="#222" stroke-width="0.75"/>
<line x1="76.74" y1="426.57" x2="79.26" y2="428.02" stroke="#222" stroke-width="0.75"/>
<line x1="79.26" y1="426.57" x2="76.74" y2="428.02" stroke="#222" stroke-width="0.75"/>
<line x1="125.40" y1="440.00" x2="194.00" y2="440.00" stroke="#383838" stroke-width="1.3"/>
<circle cx="156.40" cy="435.90" r="0.85" fill="#222"/>
<line x1="156.40" y1="434.45" x2="156.40" y2="437.35" stroke="#222" stroke-width="0.75"/>
<line x1="155.14" y1="435.17" x2="157.66" y2="436.62" stroke="#222" stroke-width="0.75"/>
<line x1="157.66" y1="435.17" x2="155.14" y2="436.62" stroke="#222" stroke-width="0.75"/>
<circle cx="159.80" cy="435.90" r="0.85" fill="#222"/>
<line x1="159.80" y1="434.45" x2="159.80" y2="437.35" stroke="#222" stroke-width="0.75"/>
<line x1="158.54" y1="435.17" x2="161.06" y2="436.62" stroke="#222" stroke-width="0.75"/>
<line x1="161.06" y1="435.17" x2="158.54" y2="436.62" stroke="#222" stroke-width="0.75"/>
<circle cx="163.20" cy="435.90" r="0.85" fill="#222"/>
<line x1="163.20" y1="434.45" x2="163.20" y2="437.35" stroke="#222" stroke-width="0.75"/>
<line x1="161.94" y1="435.17" x2="164.46" y2="436.62" stroke="#222" stroke-width="0.75"/>
<line x1="164.46" y1="435.17" x2="161.94" y2="436.62" stroke="#222" stroke-width="0.75"/>
<line x1="125.40" y1="448.60" x2="152.50" y2="448.60" stroke="#383838" stroke-width="1.3"/>
<circle cx="138.90" cy="444.50" r="0.85" fill="#222"/>
<line x1="138.90" y1="443.05" x2="138.90" y2="445.95" stroke="#222" stroke-width="0.75"/>
<line x1="137.64" y1="443.77" x2="140.16" y2="445.23" stroke="#222" stroke-width="0.75"/>
<line x1="140.16" y1="443.77" x2="137.64" y2="445.23" stroke="#222" stroke-width="0.75"/>
<text x="0" y="0" font-size="9.8" text-anchor="start" fill="#111" textLength="62.00" lengthAdjust="spacingAndGlyphs" transform="translate(27.80,512.40) rotate(-90)">Euclidian distance</text>
<text x="0" y="0" font-size="9.8" text-anchor="start" fill="#111" textLength="17.40" lengthAdjust="spacingAndGlyphs" transform="translate(27.80,448.80) rotate(-90)">[µm]</text>
<text x="0" y="0" font-size="8.3" text-anchor="end" fill="#111" transform="translate(66.60,536.00) rotate(-45)">WT</text>
<text x="0" y="0" font-size="8.3" text-anchor="end" fill="#111" transform="translate(88.70,536.00) rotate(-45)">WT Mac1 AB</text>
<text x="0" y="0" font-size="8.3" text-anchor="end" fill="#111" transform="translate(110.60,536.00) rotate(-45)">WT LFA AB</text>
<text x="0" y="0" font-size="8.3" text-anchor="end" fill="#111" transform="translate(132.40,536.00) rotate(-45)">Sell-/-</text>
<text x="0" y="0" font-size="8.3" text-anchor="end" fill="#111" transform="translate(154.10,536.00) rotate(-45)">Sell-/- Mac1 AB</text>
<text x="0" y="0" font-size="8.3" text-anchor="end" fill="#111" transform="translate(176.00,536.00) rotate(-45)">Sell-/- LFA AB</text>
<text x="0" y="0" font-size="8.3" text-anchor="end" fill="#111" transform="translate(197.80,536.00) rotate(-45)">CD18-/-</text>
<line x1="281.90" y1="430.20" x2="281.90" y2="426.70" stroke="#222" stroke-width="1"/>
<line x1="278.50" y1="426.70" x2="285.30" y2="426.70" stroke="#222" stroke-width="1"/>
<rect x="274.60" y="430.60" width="14.60" height="95.80" fill="#a3002a" stroke="#8a001e" stroke-width="0.8"/>
<line x1="303.65" y1="490.60" x2="303.65" y2="487.80" stroke="#222" stroke-width="1"/>
<line x1="300.25" y1="487.80" x2="307.05" y2="487.80" stroke="#222" stroke-width="1"/>
<rect x="296.50" y="491.00" width="14.30" height="35.40" fill="#a3002a" stroke="#8a001e" stroke-width="0.8"/>
<line x1="325.45" y1="438.10" x2="325.45" y2="432.90" stroke="#222" stroke-width="1"/>
<line x1="322.05" y1="432.90" x2="328.85" y2="432.90" stroke="#222" stroke-width="1"/>
<rect x="318.30" y="438.50" width="14.30" height="87.90" fill="#a3002a" stroke="#8a001e" stroke-width="0.8"/>
<line x1="347.45" y1="457.50" x2="347.45" y2="454.60" stroke="#222" stroke-width="1"/>
<line x1="344.05" y1="454.60" x2="350.85" y2="454.60" stroke="#222" stroke-width="1"/>
<rect x="340.50" y="457.90" width="13.90" height="68.50" fill="#2e4a7b" stroke="#1b356a" stroke-width="0.8"/>
<line x1="369.30" y1="490.60" x2="369.30" y2="486.30" stroke="#222" stroke-width="1"/>
<line x1="365.90" y1="486.30" x2="372.70" y2="486.30" stroke="#222" stroke-width="1"/>
<rect x="362.30" y="491.00" width="14.00" height="35.40" fill="#2e4a7b" stroke="#1b356a" stroke-width="0.8"/>
<line x1="391.15" y1="452.50" x2="391.15" y2="442.30" stroke="#222" stroke-width="1"/>
<line x1="387.75" y1="442.30" x2="394.55" y2="442.30" stroke="#222" stroke-width="1"/>
<rect x="384.20" y="452.90" width="13.90" height="73.50" fill="#2e4a7b" stroke="#1b356a" stroke-width="0.8"/>
<line x1="412.70" y1="514.30" x2="412.70" y2="507.50" stroke="#222" stroke-width="1"/>
<line x1="409.30" y1="507.50" x2="416.10" y2="507.50" stroke="#222" stroke-width="1"/>
<rect x="405.70" y="514.70" width="14.00" height="11.70" fill="#69a845" stroke="#5a9a3a" stroke-width="0.8"/>
<line x1="270.90" y1="417.20" x2="270.90" y2="526.40" stroke="#111" stroke-width="1.2"/>
<line x1="270.90" y1="526.40" x2="423.50" y2="526.40" stroke="#111" stroke-width="1.2"/>
<line x1="267.60" y1="420.00" x2="270.90" y2="420.00" stroke="#111" stroke-width="1"/>
<text x="265.10" y="423.00" font-size="8.4" text-anchor="end" font-weight="normal" fill="#111" >15</text>
<line x1="267.60" y1="455.50" x2="270.90" y2="455.50" stroke="#111" stroke-width="1"/>
<text x="265.10" y="458.50" font-size="8.4" text-anchor="end" font-weight="normal" fill="#111" >10</text>
<line x1="267.60" y1="491.00" x2="270.90" y2="491.00" stroke="#111" stroke-width="1"/>
<text x="265.10" y="494.00" font-size="8.4" text-anchor="end" font-weight="normal" fill="#111" >5</text>
<line x1="267.60" y1="526.40" x2="270.90" y2="526.40" stroke="#111" stroke-width="1"/>
<text x="265.10" y="529.40" font-size="8.4" text-anchor="end" font-weight="normal" fill="#111" >0</text>
<line x1="281.90" y1="526.40" x2="281.90" y2="528.90" stroke="#111" stroke-width="0.9"/>
<line x1="303.65" y1="526.40" x2="303.65" y2="528.90" stroke="#111" stroke-width="0.9"/>
<line x1="325.45" y1="526.40" x2="325.45" y2="528.90" stroke="#111" stroke-width="0.9"/>
<line x1="347.45" y1="526.40" x2="347.45" y2="528.90" stroke="#111" stroke-width="0.9"/>
<line x1="369.30" y1="526.40" x2="369.30" y2="528.90" stroke="#111" stroke-width="0.9"/>
<line x1="391.15" y1="526.40" x2="391.15" y2="528.90" stroke="#111" stroke-width="0.9"/>
<line x1="412.70" y1="526.40" x2="412.70" y2="528.90" stroke="#111" stroke-width="0.9"/>
<line x1="280.60" y1="400.10" x2="407.50" y2="400.10" stroke="#383838" stroke-width="1.3"/>
<circle cx="339.10" cy="396.00" r="0.85" fill="#222"/>
<line x1="339.10" y1="394.55" x2="339.10" y2="397.45" stroke="#222" stroke-width="0.75"/>
<line x1="337.84" y1="395.27" x2="340.36" y2="396.73" stroke="#222" stroke-width="0.75"/>
<line x1="340.36" y1="395.27" x2="337.84" y2="396.73" stroke="#222" stroke-width="0.75"/>
<circle cx="342.50" cy="396.00" r="0.85" fill="#222"/>
<line x1="342.50" y1="394.55" x2="342.50" y2="397.45" stroke="#222" stroke-width="0.75"/>
<line x1="341.24" y1="395.27" x2="343.76" y2="396.73" stroke="#222" stroke-width="0.75"/>
<line x1="343.76" y1="395.27" x2="341.24" y2="396.73" stroke="#222" stroke-width="0.75"/>
<circle cx="345.90" cy="396.00" r="0.85" fill="#222"/>
<line x1="345.90" y1="394.55" x2="345.90" y2="397.45" stroke="#222" stroke-width="0.75"/>
<line x1="344.64" y1="395.27" x2="347.16" y2="396.73" stroke="#222" stroke-width="0.75"/>
<line x1="347.16" y1="395.27" x2="344.64" y2="396.73" stroke="#222" stroke-width="0.75"/>
<line x1="280.60" y1="409.40" x2="349.90" y2="409.40" stroke="#383838" stroke-width="1.3"/>
<circle cx="315.20" cy="405.30" r="0.85" fill="#222"/>
<line x1="315.20" y1="403.85" x2="315.20" y2="406.75" stroke="#222" stroke-width="0.75"/>
<line x1="313.94" y1="404.57" x2="316.46" y2="406.02" stroke="#222" stroke-width="0.75"/>
<line x1="316.46" y1="404.57" x2="313.94" y2="406.02" stroke="#222" stroke-width="0.75"/>
<line x1="280.60" y1="419.20" x2="308.10" y2="419.20" stroke="#383838" stroke-width="1.3"/>
<circle cx="290.80" cy="415.10" r="0.85" fill="#222"/>
<line x1="290.80" y1="413.65" x2="290.80" y2="416.55" stroke="#222" stroke-width="0.75"/>
<line x1="289.54" y1="414.37" x2="292.06" y2="415.82" stroke="#222" stroke-width="0.75"/>
<line x1="292.06" y1="414.37" x2="289.54" y2="415.82" stroke="#222" stroke-width="0.75"/>
<circle cx="294.20" cy="415.10" r="0.85" fill="#222"/>
<line x1="294.20" y1="413.65" x2="294.20" y2="416.55" stroke="#222" stroke-width="0.75"/>
<line x1="292.94" y1="414.37" x2="295.46" y2="415.82" stroke="#222" stroke-width="0.75"/>
<line x1="295.46" y1="414.37" x2="292.94" y2="415.82" stroke="#222" stroke-width="0.75"/>
<circle cx="297.60" cy="415.10" r="0.85" fill="#222"/>
<line x1="297.60" y1="413.65" x2="297.60" y2="416.55" stroke="#222" stroke-width="0.75"/>
<line x1="296.34" y1="414.37" x2="298.86" y2="415.82" stroke="#222" stroke-width="0.75"/>
<line x1="298.86" y1="414.37" x2="296.34" y2="415.82" stroke="#222" stroke-width="0.75"/>
<line x1="345.00" y1="428.50" x2="413.90" y2="428.50" stroke="#383838" stroke-width="1.3"/>
<circle cx="377.00" cy="424.40" r="0.85" fill="#222"/>
<line x1="377.00" y1="422.95" x2="377.00" y2="425.85" stroke="#222" stroke-width="0.75"/>
<line x1="375.74" y1="423.67" x2="378.26" y2="425.12" stroke="#222" stroke-width="0.75"/>
<line x1="378.26" y1="423.67" x2="375.74" y2="425.12" stroke="#222" stroke-width="0.75"/>
<circle cx="380.40" cy="424.40" r="0.85" fill="#222"/>
<line x1="380.40" y1="422.95" x2="380.40" y2="425.85" stroke="#222" stroke-width="0.75"/>
<line x1="379.14" y1="423.67" x2="381.66" y2="425.12" stroke="#222" stroke-width="0.75"/>
<line x1="381.66" y1="423.67" x2="379.14" y2="425.12" stroke="#222" stroke-width="0.75"/>
<circle cx="383.80" cy="424.40" r="0.85" fill="#222"/>
<line x1="383.80" y1="422.95" x2="383.80" y2="425.85" stroke="#222" stroke-width="0.75"/>
<line x1="382.54" y1="423.67" x2="385.06" y2="425.12" stroke="#222" stroke-width="0.75"/>
<line x1="385.06" y1="423.67" x2="382.54" y2="425.12" stroke="#222" stroke-width="0.75"/>
<line x1="345.00" y1="437.70" x2="372.70" y2="437.70" stroke="#383838" stroke-width="1.3"/>
<circle cx="357.10" cy="433.60" r="0.85" fill="#222"/>
<line x1="357.10" y1="432.15" x2="357.10" y2="435.05" stroke="#222" stroke-width="0.75"/>
<line x1="355.84" y1="432.87" x2="358.36" y2="434.32" stroke="#222" stroke-width="0.75"/>
<line x1="358.36" y1="432.87" x2="355.84" y2="434.32" stroke="#222" stroke-width="0.75"/>
<circle cx="360.50" cy="433.60" r="0.85" fill="#222"/>
<line x1="360.50" y1="432.15" x2="360.50" y2="435.05" stroke="#222" stroke-width="0.75"/>
<line x1="359.24" y1="432.87" x2="361.76" y2="434.32" stroke="#222" stroke-width="0.75"/>
<line x1="361.76" y1="432.87" x2="359.24" y2="434.32" stroke="#222" stroke-width="0.75"/>
<text x="0" y="0" font-size="9.8" text-anchor="start" fill="#111" textLength="26.70" lengthAdjust="spacingAndGlyphs" transform="translate(250.20,502.70) rotate(-90)">Velocity</text>
<text x="0" y="0" font-size="9.8" text-anchor="start" fill="#111" textLength="34.10" lengthAdjust="spacingAndGlyphs" transform="translate(250.20,474.50) rotate(-90)">[µm/min]</text>
<text x="0" y="0" font-size="8.3" text-anchor="end" fill="#111" transform="translate(284.90,535.70) rotate(-45)">WT</text>
<text x="0" y="0" font-size="8.3" text-anchor="end" fill="#111" transform="translate(306.65,535.70) rotate(-45)">WT Mac1 AB</text>
<text x="0" y="0" font-size="8.3" text-anchor="end" fill="#111" transform="translate(328.45,535.70) rotate(-45)">WT LFA AB</text>
<text x="0" y="0" font-size="8.3" text-anchor="end" fill="#111" transform="translate(350.45,535.70) rotate(-45)">Sell-/-</text>
<text x="0" y="0" font-size="8.3" text-anchor="end" fill="#111" transform="translate(372.30,535.70) rotate(-45)">Sell-/- Mac1 AB</text>
<text x="0" y="0" font-size="8.3" text-anchor="end" fill="#111" transform="translate(394.15,535.70) rotate(-45)">Sell-/- LFA AB</text>
<text x="0" y="0" font-size="8.3" text-anchor="end" fill="#111" transform="translate(415.70,535.70) rotate(-45)">CD18-/-</text>
</svg></div></body></html>
